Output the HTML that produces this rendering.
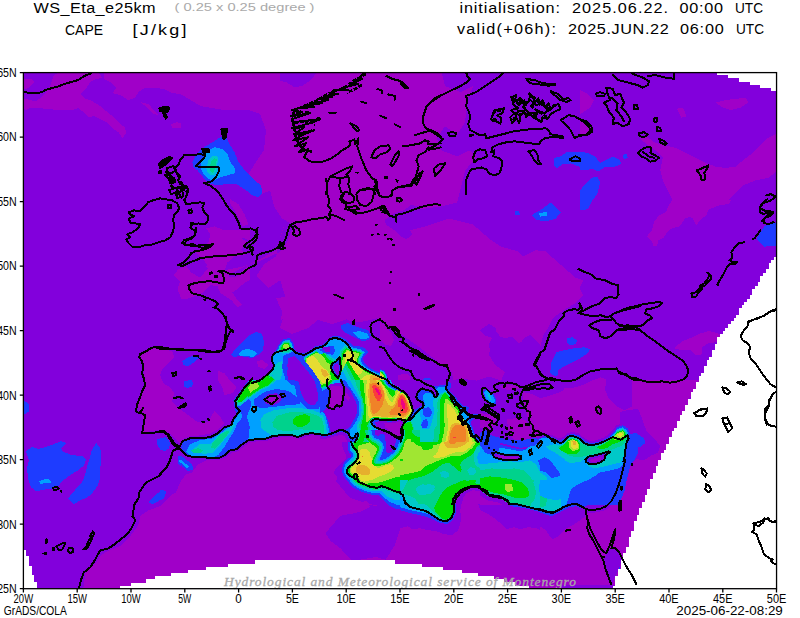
<!DOCTYPE html><html><head><meta charset="utf-8"><title>CAPE</title>
<style>html,body{margin:0;padding:0;background:#fff;overflow:hidden}svg{display:block}text{font-family:"Liberation Sans",sans-serif;fill:#000}</style></head><body>
<svg width="800" height="618" viewBox="0 0 800 618">
<rect width="800" height="618" fill="#fff"/>
<defs><clipPath id="cp"><rect x="23.4" y="72.6" width="753.15" height="516.1"/></clipPath></defs>
<g clip-path="url(#cp)" shape-rendering="crispEdges">
<rect x="23.4" y="72.6" width="753.15" height="516.1" fill="rgb(130,0,220)"/>
<polygon points="523.2,392.0 532.2,394.1 540.2,398.1 548.3,396.1 560.3,392.0 568.4,388.0 574.4,392.0 584.4,386.0 592.4,380.0 604.5,380.0 604.5,388.0 608.5,398.1 616.5,406.1 624.6,410.1 632.6,406.1 640.6,402.1 640.6,432.2 634.6,430.2 628.6,426.2 622.6,423.2 616.5,425.2 610.5,432.2 604.5,437.2 596.5,440.2 590.4,441.2 584.4,438.2 578.4,433.2 572.4,431.8 567.3,433.2 563.3,437.2 558.3,438.2 552.3,435.2 546.3,433.2 540.2,436.2 534.2,438.2 531.2,432.2 530.2,424.2 527.2,416.1 525.2,408.1 523.2,400.1" fill="rgb(160,0,200)"/>
<polygon points="480.0,413.1 488.0,414.1 496.1,417.1 495.1,426.2 488.0,429.2 480.0,428.2" fill="rgb(160,0,200)"/>
<polygon points="507.1,419.2 516.1,418.2 526.2,420.2 530.2,428.2 530.2,440.2 520.2,443.3 512.1,438.2 508.1,430.2" fill="rgb(160,0,200)"/>
<polygon points="500.1,386.0 506.1,384.0 518.2,386.0 519.2,389.0 510.1,390.0 502.1,389.0" fill="rgb(160,0,200)"/>
<polygon points="400.0,528.2 408.0,526.2 412.0,529.2 420.1,528.2 428.1,530.2 436.1,531.2 444.2,534.2 452.2,535.2 458.2,530.2 461.2,520.2 460.2,510.1 462.2,500.1 468.3,495.1 472.3,492.0 475.3,496.1 478.3,504.1 480.3,510.1 488.4,514.1 494.4,518.2 500.4,523.2 506.4,529.2 514.5,527.2 520.5,529.2 528.5,527.2 536.5,528.2 544.6,533.2 552.6,539.2 560.6,536.2 560.6,604.5 400.0,604.5" fill="rgb(160,0,200)"/>
<polygon points="540.0,526.3 546.0,530.3 552.0,539.3 558.1,536.3 566.1,528.3 574.1,524.3 580.2,520.2 585.2,516.2 587.8,512.6 594.2,512.6 602.2,511.2 608.3,508.2 612.7,503.2 616.3,496.1 619.3,488.1 622.3,478.1 624.3,469.0 626.3,460.0 700.6,460.0 700.6,584.5 540.0,584.5" fill="rgb(160,0,200)"/>
<polygon points="380.0,322.0 385.0,325.0 388.0,330.0 392.0,334.0 394.0,340.0 391.0,346.0 386.0,345.0 382.0,342.0 380.0,340.0" fill="rgb(160,0,200)"/>
<polygon points="398.0,375.0 406.0,373.6 410.0,376.0 410.0,380.4 398.0,380.4" fill="rgb(160,0,200)"/>
<polygon points="200.0,70.0 441.0,70.0 445.0,86.1 461.0,92.1 473.1,86.1 467.1,102.1 465.1,122.2 457.0,134.3 445.0,126.2 436.9,138.3 441.0,150.3 457.0,156.3 469.1,150.3 477.1,156.3 465.1,170.4 461.0,186.5 457.0,202.5 441.0,206.5 424.9,208.6 408.8,212.6 400.8,218.6 408.8,230.6 424.9,226.6 449.0,218.6 473.1,224.6 489.2,238.7 501.2,246.7 517.9,251.4 523.0,256.5 535.5,250.2 545.5,251.4 555.6,260.2 565.6,269.0 575.7,277.8 583.2,280.3 579.4,287.8 583.2,295.4 575.7,302.9 563.1,310.4 553.1,317.9 548.1,328.0 543.0,335.5 540.5,345.5 535.5,345.5 528.0,336.8 517.9,344.3 510.4,340.5 500.4,336.8 495.4,330.5 489.1,325.5 482.8,330.5 487.8,336.8 495.4,336.8 490.3,345.5 489.1,355.1 495,365 505,372 501,380.6 489,376.6 477,380.6 461,378.6 451,380.6 445.0,372.6 436.9,360.6 420.9,348.5 404.8,336.5 388.8,326.4 376.7,318.4 368.7,320.4 358.6,322.4 348.6,320.4 336.5,314.4 320.5,316.4 304.4,320.4 292.4,312.4 280.3,320.4 286.3,300.3 280.3,280.2 268.3,288.3 256.2,276.2 264.3,264.2 276.3,256.1 280.3,236.1 286.3,220.0 276,250.7 260,258.8 244,266.8 228,274.8 212,270.8 200,262.8 205,266 225,270 245,266 262,260 280,252 287,242 294,225 282,218.6 274,206.5 270,190.5 260,194.5 248,174.4 264,150 266,130 260,114 248,110 224,110 200,106 200,72" fill="rgb(160,0,200)"/>
<polygon points="82.8,592 85.3,573.4 95.4,563.4 100.4,555.8 108,550.8 120.5,545.8 130.5,535.8 138,525.7 140.5,515.7 148,510.7 160.6,505.7 170.6,495.6 176,492.4 180,482.4 186,474.4 192,472.4 198,464.3 206,460.3 218,460.3 226,457.3 232,452.3 238,451.3 244,446.3 250,442.2 258,441.2 266,441.2 274.5,438.2 282.5,437.2 294.5,437.2 299.6,439.2 306.6,436.2 312.6,435.2 320,436.2 326,438.7 332,437.2 337,435.7 341,434.7 344.6,436.2 346.3,439.2 341.6,442 342.6,448 346,455 346,459 340,464 335,470 333.6,473 337.6,477 336,482 340,486 345,492 350,498 354,502 360,502 367,501 369,504 385,507 401,528.2 401,592" fill="rgb(160,0,200)"/>
<polygon points="173.8,275.0 178.8,268.8 186.2,266.2 191.2,272.5 200.0,277.5 208.8,267.5 203.8,260.0 196.2,252.5 208.8,248.8 211.2,237.5 215.0,232.5 220.0,230.0 250.0,230.0 250.0,241.2 242.5,237.5 237.5,243.8 245.0,255.0 235.0,256.2 227.5,262.5 225.0,270.0 230.0,277.5 237.5,276.2 247.5,266.2 250.0,267.5 250.0,280.0 245.0,282.5 237.5,288.8 232.5,292.5 237.5,300.0 242.5,305.0 237.5,307.0 231.2,300.0 220.0,292.5 217.5,286.2 210.0,285.0 202.5,292.5 197.5,295.0 187.5,298.8 181.2,298.8 177.5,288.8 180.0,281.2" fill="rgb(160,0,200)"/>
<polygon points="276,298 284,316 280,328 292,334 308,328 318,320 332,324 344,320 360,316 376,312 392,310 392,298 340,292" fill="rgb(160,0,200)"/>
<polygon points="230.4,199.3 238.5,204.3 244.5,214.3 248.5,224.4 242.5,226.4 238.5,218.4 234.5,210.3 230.4,204.3" fill="rgb(160,0,200)"/>
<polygon points="206.3,228.4 214.4,226.4 224.4,230.4 230.4,234.4 240.5,238.4 248.5,242.4 240.5,250.5 232.4,254.5 206.3,254.5 200.3,248.5 208.4,242.4 210.4,234.4" fill="rgb(160,0,200)"/>
<polygon points="150.1,347.0 160.2,349.1 172.2,351.1 174.2,357.1 168.2,363.1 162.2,369.1 160.2,375.2 163.2,383.2 170.2,387.2 174.2,393.2 172.2,401.3 180.2,409.3 188.3,415.3 196.3,421.3 202.3,423.4 208.4,421.3 214.4,411.3 220.4,417.3 224.4,423.4 218.4,429.4 210.4,433.4 200.3,435.4 190.3,436.4 184.3,438.4 180.2,443.4 176.2,439.4 170.2,433.4 162.2,429.4 150.1,431.4 143.1,432.4 144.1,421.3 140.1,412.3 137.1,404.3 142.1,391.2 145.1,385.2 143.1,367.1 140.1,355.1 144.1,352.1" fill="rgb(160,0,200)"/>
<polygon points="218.4,371.1 224.4,373.2 230.4,381.2 236.5,387.2 232.4,393.2 224.4,395.2 222.4,387.2 218.4,381.2" fill="rgb(160,0,200)"/>
<polygon points="256.5,361.1 262.6,360.1 268.6,365.1 264.6,369.1 258.6,367.1" fill="rgb(160,0,200)"/>
<polygon points="560.3,394.5 564.3,388.5 574.4,387.5 584.4,384.5 592.4,380.4 600.5,377.4 606.5,379.4 605.5,386.5 600.5,394.5" fill="rgb(160,0,200)"/>
<polygon points="647.1,236.1 652.1,230.1 654.1,222.1 658.2,216.1 666.2,212.0 668.2,206.0 672.2,200.0 731.4,200.0 728.4,204.0 716.4,206.0 708.4,210.0 706.3,215.1 700.3,220.1 696.3,225.1 692.3,218.1 686.3,215.1 680.2,217.1 678.2,222.1 680.2,226.1 672.2,228.1 667.2,232.1 663.2,238.2 658.2,240.2 657.1,246.2 653.1,246.2 652.1,241.2" fill="rgb(160,0,200)"/>
<polygon points="674.2,348.2 682.2,341.2 690.3,338.2 698.3,334.1 708.4,331.1 714.4,332.1 722.4,335.1 716.4,342.2 708.4,343.2 702.3,347.2 701.3,355.2 695.3,355.2 690.3,350.2 682.2,350.2" fill="rgb(160,0,200)"/>
<polygon points="630.0,416.5 640.1,404.4 638.1,396.4 646.1,398.4 654.1,400.4 666.2,396.4 676.2,392.4 682.2,388.4 688.3,394.4 680.2,424.5 634.1,424.5" fill="rgb(160,0,200)"/>
<polygon points="632.0,379.9 704.3,379.9 688.3,400.0 688.3,464.3 632.0,464.3" fill="rgb(160,0,200)"/>
<polygon points="639.0,137.8 646.5,136.5 655.3,142.8 665.3,145.3 675.4,147.8 685.4,152.8 695.4,157.8 705.5,162.8 715.5,166.6 725.5,167.9 735.6,166.6 743.1,160.3 753.1,152.8 760.7,145.3 768.2,137.8 778.2,132.7 778.2,170.4 768.2,177.9 755.7,180.4 743.1,185.4 733.1,195.5 725.5,203.0 715.5,206.8 705.5,210.5 695.4,215.5 685.4,218.1 680.4,225.6 652.8,225.6 660.3,218.1 667.8,210.5 672.8,200.5 667.8,190.5 662.8,180.4 660.3,170.4 662.8,157.8 655.3,150.3 647.8,145.3" fill="rgb(160,0,200)"/>
<polygon points="580.0,90.1 587.5,93.8 593.8,100.1 590.0,107.6 582.5,112.7 580.0,113.9" fill="rgb(160,0,200)"/>
<polygon points="580.0,120.2 591.3,126.5 592.5,131.5 587.5,134.7 580.0,135.2" fill="rgb(160,0,200)"/>
<polygon points="715.5,102.6 725.5,100.1 735.6,98.9 745.6,97.6 748.1,102.6 740.6,107.6 730.6,110.2 723.0,107.6" fill="rgb(160,0,200)"/>
<polygon points="676.6,108.9 682.9,107.6 686.6,116.4 681.6,117.7" fill="rgb(160,0,200)"/>
<polygon points="22.0,79.0 32.0,79.0 34.1,82.1 30.0,87.1 22.0,90.5" fill="rgb(160,0,200)"/>
<polygon points="22.0,98.1 30.0,100.1 36.1,101.1 40.1,98.1 46.1,92.1 50.1,86.1 52.1,80.0 54.1,75.0 60.2,72.0 98.3,72.0 102.3,78.0 96.3,79.0 90.3,82.1 86.3,88.1 80.2,94.1 84.3,98.1 92.3,101.1 100.3,106.2 106.3,111.2 112.4,116.2 118.4,122.2 124.4,127.2 126.4,132.3 122.4,138.3 118.4,132.3 112.4,128.2 106.3,122.2 100.3,119.2 94.3,116.2 88.3,117.2 82.2,111.2 78.2,108.2 72.2,110.2 60.2,110.2 50.1,109.2 40.1,108.2 30.0,108.2 26.0,110.2 22.0,108.2" fill="rgb(160,0,200)"/>
<polygon points="104.3,71.0 200.7,71.0 200.7,106.2 180.6,94.1 172.6,93.1 164.6,89.1 156.5,88.1 144.5,88.1 138.5,92.1 134.5,98.1 128.4,100.1 120.4,95.1 112.4,93.1 116.4,88.1 110.4,82.1 104.3,79.0" fill="rgb(160,0,200)"/>
<polygon points="140.5,102.1 148.5,104.1 154.5,111.2 158.6,115.2 152.5,113.2 146.5,107.2" fill="rgb(160,0,200)"/>
<polygon points="170.6,124.2 176.6,122.2 180.6,123.2 180.6,128.2 172.6,128.2" fill="rgb(160,0,200)"/>
<polygon points="392.0,335.0 400.0,341.0 408.0,353.0 420.0,358.0 428.0,363.0 438.0,364.4 446.0,367.0 452.0,372.0 453.0,380.4 412.0,380.4 411.0,372.0 404.0,370.4 398.0,368.0 392.0,363.0 388.0,358.0 385.0,352.0 384.0,348.0 391.0,346.0 394.0,340.0" fill="rgb(130,0,220)"/>
<polygon points="480,330 489,324 496,328 497,335 504,338 512,337 520,344 524,338 530,335 536,340 540,345 540,380 508,380 510,375 520,370 518,364 512,362 504,364 496,360 490,352 489,344 492,338 484,335" fill="rgb(130,0,220)"/>
<polygon points="325.5,533 340.5,515.7 355.6,513 368,505 395,508 400,516 400,530 395,545 385.7,559.6 375.7,557 360.6,559.6 350.6,559.6 340.5,548.3 330.5,540.8" fill="rgb(130,0,220)"/>
<polygon points="280.0,73.0 316.1,73.0 312.1,79.0 302.1,86.1 294.1,87.1 286.0,82.0 280.0,81.0" fill="rgb(130,0,220)"/>
<polygon points="384.4,220.2 392.4,214.1 404.5,210.1 410.5,205.1 418.6,206.1 423.6,214.1 418.6,220.2 412.5,225.2 408.5,228.2 412.5,234.2 406.5,239.2 400.5,236.2 394.5,230.2 386.4,225.2" fill="rgb(130,0,220)"/>
<polygon points="620.0,412.0 628.0,410.0 638.1,409.0 641.1,416.1 646.1,430.1 654.1,438.2 660.2,446.2 658.2,452.2 650.1,456.2 644.1,460.2 636.1,459.2 630.0,466.3 626.0,480.3 620.0,484.3" fill="rgb(130,0,220)"/>
<polygon points="181.1,447.3 183.1,441.2 190.1,437.8 200.2,437.8 210.2,436.8 218.2,432.6 224.3,426.6 230.7,424.6 232.7,418.6 236.3,413.7 234.7,408.1 233.3,400.1 238.3,394.1 243.3,387.0 249.4,380.0 320.0,380.0 320.0,433.8 310.6,432.8 304.6,433.8 297.6,436.8 292.5,434.8 280.5,434.8 272.4,435.8 264.4,438.8 256.4,438.8 248.4,439.8 242.3,443.9 236.3,448.9 230.3,449.9 224.3,454.9 218.2,457.9 208.2,457.9 206.2,456.9 194.1,456.9 186.1,454.9 182.5,451.3" fill="rgb(30,60,255)"/>
<polygon points="160.0,438.2 166.0,437.2 170.0,442.2 169.0,448.3 165.0,451.3 160.0,449.3" fill="rgb(30,60,255)"/>
<polygon points="178.1,457.3 182.1,456.3 192.1,464.3 193.1,469.4 188.1,471.4 182.1,466.3 178.1,460.3" fill="rgb(30,60,255)"/>
<polygon points="160.0,489.4 166.0,491.4 164.0,498.5 160.0,500.5" fill="rgb(30,60,255)"/>
<polygon points="184.1,381.0 192.1,380.0 193.1,385.0 188.1,388.0 183.7,386.0" fill="rgb(30,60,255)"/>
<polygon points="320.0,380.0 400.3,380.0 400.3,442.2 320.0,442.2" fill="rgb(30,60,255)"/>
<polygon points="400.0,391.8 403.0,391.0 406.0,393.3 408.5,397.3 411.0,403.1 412.6,408.1 413.3,410.6 416.1,409.1 419.1,407.6 421.6,405.6 422.1,403.6 419.6,401.6 417.1,400.1 415.1,397.6 416.1,394.1 417.6,391.2 420.1,389.2 422.9,388.2 425.1,389.2 427.6,389.8 431.1,390.8 433.6,392.9 435.1,396.1 436.9,396.1 437.3,393.9 436.3,391.5 434.3,389.0 432.3,386.8 437.1,385.8 442.2,384.8 445.7,385.2 447.0,383.5 448.0,381.5 450.2,382.5 451.4,386.0 450.4,388.2 449.4,390.8 452.4,393.9 455.4,396.9 457.9,400.4 460.4,403.4 463.0,405.4 466.5,406.4 469.5,407.4 467.5,410.1 468.5,413.1 472.5,414.1 480.3,413.6 480.3,415.1 474.8,418.0 472.5,420.2 470.5,422.2 472.5,427.2 474.5,433.2 477.5,438.2 480.3,441.4 480.3,442.2 400.0,442.2" fill="rgb(30,60,255)"/>
<polygon points="347.9,448.9 348.0,449.5 348.1,450.0 348.3,450.6 348.5,451.1 348.8,451.6 349.1,452.1 349.4,452.6 350.8,454.2 351.1,455.0 351.1,455.6 350.6,456.5 347.8,459.1 347.7,459.2 344.7,462.2 344.3,462.6 344.0,463.1 343.7,463.6 343.4,464.1 343.2,464.6 342.2,467.6 342.0,468.3 341.9,468.9 341.9,469.5 341.9,470.2 342.0,470.8 342.5,473.3 342.7,474.0 343.0,474.7 343.3,475.3 344.8,477.8 345.2,478.4 345.7,479.0 347.2,480.5 348.9,483.1 349.3,483.6 349.7,484.1 352.2,486.6 352.8,487.1 353.4,487.5 357.0,489.7 357.4,489.9 357.9,490.2 361.9,491.8 362.2,491.9 366.2,493.3 366.8,493.4 371.8,494.6 372.5,494.8 373.2,494.8 378.2,494.8 378.9,494.8 379.6,494.7 380.2,494.5 381.9,493.9 383.3,494.3 388.0,496.2 388.2,496.2 393.2,498.0 393.8,498.2 394.4,498.3 399.4,499.0 399.8,499.1 400.3,499.1 400.3,442.0 347.5,442.0" fill="rgb(30,60,255)"/>
<polygon points="480.0,433.2 486.0,430.2 490.0,434.2 492.0,440.2 498.1,444.3 506.1,446.3 514.1,448.3 524.2,449.3 530.2,446.3 534.2,440.2 540.2,438.2 546.3,435.2 552.3,437.2 558.3,440.2 564.3,439.2 567.3,435.2 572.4,433.8 578.4,435.2 584.4,440.2 590.4,443.3 596.5,442.2 602.5,440.2 608.5,437.2 612.5,433.2 617.6,427.2 622.6,425.2 627.6,428.2 630.6,434.2 632.6,440.2 636.6,444.3 638.6,452.3 634.6,460.3 630.6,464.3 628.6,472.4 626.6,480.4 624.6,490.4 620.6,500.5 618.6,504.5 480.0,504.5" fill="rgb(30,60,255)"/>
<polygon points="483.0,391.0 487.0,388.4 493.1,393.7 496.5,400.1 495.7,405.7 491.0,404.5 485.6,399.1" fill="rgb(30,60,255)"/>
<polygon points="400.0,510.1 410.0,513.1 420.1,515.1 430.1,518.2 440.2,523.2 447.2,523.8 452.6,520.2 455.8,513.1 456.2,505.1 458.2,499.1 462.2,494.5 468.3,490.4 477.3,489.0 486.3,493.1 489.4,497.1 502.4,500.1 508.4,503.1 510.4,506.1 524.5,508.1 540.6,512.1 548.6,514.5 554.6,514.1 560.6,511.1 560.6,480.0 400.0,480.0" fill="rgb(30,60,255)"/>
<polygon points="540.0,512.6 546.0,514.6 552.0,516.2 558.1,513.2 563.1,510.2 570.1,507.2 576.1,506.2 581.2,508.2 585.2,506.2 592.2,503.2 600.2,500.2 606.3,498.2 610.3,494.1 613.3,488.1 616.3,480.1 619.3,472.0 622.3,464.0 623.9,460.0 540.0,460.0" fill="rgb(30,60,255)"/>
<polygon points="231.0,355.0 236.0,348.0 242.0,342.0 250.0,335.0 256.0,332.0 262.0,334.0 264.0,342.0 263.0,350.0 258.0,355.0 252.0,358.0 246.0,357.0 240.0,356.0 234.0,357.0" fill="rgb(30,60,255)"/>
<polygon points="341.0,325.0 348.0,323.0 354.0,326.0 360.0,328.0 368.0,330.0 371.0,335.0 369.0,340.0 362.0,341.0 356.0,338.0 350.0,335.0 344.0,332.0 341.0,328.0" fill="rgb(30,60,255)"/>
<polygon points="271.6,357.0 275.0,352.4 278.0,346.0 283.0,339.0 290.0,338.0 293.6,344.0 295.0,351.0 304.0,353.6 310.0,350.4 316.0,346.0 322.0,345.0 326.0,341.6 330.0,337.0 335.0,335.6 340.4,336.6 346.0,339.6 350.0,343.0 353.0,346.0 358.0,346.0 364.0,348.0 368.0,352.0 364.0,356.0 363.0,359.0 364.0,363.0 368.0,367.0 373.0,369.6 380.0,372.4 380.0,380.4 260.0,380.4 268.0,374.0 272.4,369.0 273.6,365.0 271.6,361.0" fill="rgb(30,60,255)"/>
<polygon points="387.0,375.0 384.0,370.4 380.0,369.2 380.0,380.2 387.8,380.2" fill="rgb(30,60,255)"/>
<polygon points="424.0,378.0 430.0,377.6 431.0,380.4 423.0,380.4" fill="rgb(30,60,255)"/>
<polygon points="192.3,162.1 196.3,154.1 204.3,147.1 214.4,141.0 220.4,137.0 226.4,138.0 229.4,144.1 234.5,152.1 238.5,162.1 244.5,170.2 252.5,178.2 260.6,185.2 262.6,192.2 258.6,197.3 252.5,195.3 244.5,189.2 236.5,184.2 226.4,184.2 216.4,185.2 208.4,183.2 202.3,176.2 197.3,170.2 193.3,167.1" fill="rgb(30,60,255)"/>
<polygon points="553.5,158.4 560.5,156.3 566.5,152.3 584.6,152.3 590.6,155.3 590.6,166.4 584.6,170.4 578.6,166.4 570.6,163.4 562.5,164.4 556.5,168.4 553.5,164.4" fill="rgb(30,60,255)"/>
<polygon points="580.6,194.5 582.6,188.5 590.6,182.4 590.6,194.5" fill="rgb(30,60,255)"/>
<polygon points="182.2,361.1 188.3,357.1 196.3,355.1 200.3,357.1 194.3,362.1 188.3,366.1 183.3,365.1" fill="rgb(30,60,255)"/>
<polygon points="184.3,383.2 189.3,380.2 193.3,382.2 192.3,386.2 187.3,388.2 183.9,386.2" fill="rgb(30,60,255)"/>
<polygon points="157.1,439.4 163.2,437.4 168.2,439.4 169.2,445.4 166.2,450.5 160.2,449.5 157.1,444.4" fill="rgb(30,60,255)"/>
<polygon points="26.0,451.0 32.0,447.0 38.1,449.0 46.1,447.0 54.1,444.0 61.2,441.0 66.2,443.0 61.2,448.0 63.2,452.0 72.2,455.1 82.2,456.1 86.3,459.1 84.3,465.1 78.2,470.1 70.2,475.1 63.2,480.2 58.2,486.2 54.1,488.2 46.1,489.2 36.1,491.2 31.0,487.2 28.0,478.2 27.0,468.1 29.0,460.1" fill="rgb(30,60,255)"/>
<polygon points="89.3,460.1 91.3,451.0 96.3,443.0 100.3,448.0 101.3,458.1 100.3,468.1 100.3,478.2 97.3,486.2 92.3,493.2 86.3,498.2 80.2,500.2 74.2,504.3 68.2,498.2 73.2,492.2 78.2,486.2 82.2,482.2 85.3,474.1 87.3,466.1" fill="rgb(30,60,255)"/>
<polygon points="148.5,502.2 152.5,498.2 157.6,493.2 162.6,489.8 166.6,492.2 163.6,497.2 158.6,501.2 152.5,504.3" fill="rgb(30,60,255)"/>
<polygon points="157.6,440.0 168.6,440.0 169.6,446.0 164.6,450.0 160.6,447.0" fill="rgb(30,60,255)"/>
<polygon points="177.6,456.1 180.6,456.1 180.6,466.1 178.0,464.1" fill="rgb(30,60,255)"/>
<polygon points="550.3,372.4 551.3,362.4 556.3,352.3 564.3,350.3 574.4,348.3 584.4,347.3 590.4,349.3 586.4,354.3 578.4,359.4 570.4,363.4 562.3,367.4 558.3,370.4 557.3,376.4 553.3,375.4" fill="rgb(30,60,255)"/>
<polygon points="567.3,338.3 572.4,337.3 577.4,340.3 575.4,344.3 569.4,345.3 567.3,342.3" fill="rgb(30,60,255)"/>
<polygon points="756.5,239.2 760.6,232.1 764.6,226.1 769.6,223.1 778.6,222.5 778.6,245.8 770.6,246.2 764.6,246.6 760.6,243.2" fill="rgb(30,60,255)"/>
<polygon points="628.0,434.1 636.1,433.1 644.1,438.2 645.1,443.2 640.1,447.2 632.0,448.2 629.0,444.2" fill="rgb(30,60,255)"/>
<polygon points="580.0,154.1 587.5,152.8 595.1,156.6 600.1,162.8 607.6,159.1 612.6,156.6 618.9,159.1 621.4,164.1 615.1,166.6 605.1,166.6 598.8,171.6 592.5,169.1 580.0,170.4" fill="rgb(30,60,255)"/>
<polygon points="622.7,154.8 626.4,154.1 627.7,157.8 623.9,159.1" fill="rgb(30,60,255)"/>
<polygon points="580.0,190.5 585.0,184.2 591.3,177.9 597.6,176.6 600.1,182.9 597.6,193.0 592.5,200.5 587.5,209.3 580.0,210.5" fill="rgb(30,60,255)"/>
<polygon points="531.7,215.1 540.5,210.0 550.6,202.5 560.6,212.5 555.6,218.8 545.5,221.3 536.8,220.1" fill="rgb(30,60,255)"/>
<polygon points="514.9,211.3 519.2,211.3 519.9,214.6 515.4,215.1" fill="rgb(30,60,255)"/>
<polygon points="23,400 29,404 29,411.5 23,415" fill="rgb(30,60,255)"/>
<polygon points="374.2,484.6 388.3,489.8 400.9,492.6 400.9,509.3 396.3,509.3 388.3,505.3 378.2,495.2" fill="rgb(30,60,255)"/>
<polygon points="180.1,459.3 189.1,466.3 187.1,468.4 179.1,461.3" fill="rgb(0,160,255)"/>
<polygon points="186.1,451.3 190.1,444.3 200.2,440.2 212.2,438.6 220.2,433.4 227.3,427.8 231.5,425.4 235.3,419.2 237.9,415.1 240.3,412.1 242.7,415.1 240.3,420.2 237.3,423.2 234.7,430.2 229.7,438.2 224.7,446.3 218.6,454.7 212.6,457.9 206.6,456.7 194.5,456.7 188.1,454.3" fill="rgb(0,160,255)"/>
<polygon points="248.4,439.2 249.8,426.6 246.7,416.5 250.4,408.1 251.4,402.1 248.4,399.1 240.3,406.1 236.3,406.1 234.7,402.1 239.3,394.1 244.3,387.0 249.4,380.0 320.0,380.0 320.0,433.8 310.6,432.8 304.6,433.8 297.6,436.8 292.5,434.8 280.5,434.8 272.4,435.8 264.4,438.8 256.4,438.8" fill="rgb(0,160,255)"/>
<polygon points="320.0,380.0 327.0,380.0 326.0,384.0 327.0,387.5 324.0,389.5 320.0,390.0" fill="rgb(0,160,255)"/>
<polygon points="327.5,380.0 341.1,380.0 340.1,382.5 331.0,383.5 328.5,382.0" fill="rgb(0,160,255)"/>
<polygon points="320.0,413.1 322.5,412.1 325.0,414.6 326.5,420.2 328.0,425.2 329.0,430.2 329.5,433.7 326.0,434.7 320.0,434.2" fill="rgb(0,160,255)"/>
<polygon points="345.1,380.0 400.3,380.0 400.3,389.5 398.3,388.2 395.3,386.8 392.3,385.2 389.3,382.8 387.3,380.5 384.3,380.5 385.3,384.0 390.3,387.5 396.3,390.0 400.3,391.5 400.3,419.2 396.3,419.4 390.3,419.9 384.3,419.9 380.2,419.4 376.2,418.9 373.0,419.4 371.7,422.0 372.7,425.2 375.2,427.4 380.2,429.4 385.3,431.4 390.3,433.9 395.3,437.4 400.3,439.4 400.3,442.2 354.6,442.2 356.9,439.2 358.2,436.2 358.0,433.2 356.1,433.7 354.6,437.0 352.1,438.5 350.1,436.7 349.6,433.7 349.6,430.2 353.6,425.2 356.9,420.2 358.7,415.1 359.4,410.1 358.4,400.1 355.1,395.1 351.6,390.0 348.1,385.0" fill="rgb(0,160,255)"/>
<polygon points="424.1,394.1 426.1,392.6 430.1,393.1 433.1,396.1 435.1,398.3 437.7,397.8 438.7,395.1 438.2,392.0 436.1,389.5 438.2,387.5 442.2,386.5 445.7,387.0 447.7,390.0 450.2,393.6 453.2,396.6 455.7,400.1 458.2,403.6 460.7,406.3 464.3,407.3 466.3,408.6 465.3,410.6 465.8,413.1 469.3,414.6 468.3,418.2 469.3,422.2 471.3,428.2 473.3,434.2 476.8,439.2 479.3,442.2 400.0,442.2 400.0,427.2 401.8,425.2 403.5,422.7 406.0,421.0 408.5,420.4 411.0,418.7 413.6,416.6 416.1,414.1 418.6,411.3 421.6,409.1 423.9,406.9 424.9,404.1 423.6,400.6 422.6,397.1" fill="rgb(0,160,255)"/>
<polygon points="400.0,392.1 403.0,391.3 405.9,393.6 408.4,397.5 410.8,403.2 412.3,408.2 413.1,410.6 411.8,413.6 409.8,417.1 407.8,419.8 405.0,421.5 402.5,424.0 400.0,425.8" fill="rgb(0,160,255)"/>
<polygon points="349.9,448.8 350.0,449.1 350.0,449.5 350.1,449.9 350.3,450.3 350.5,450.6 350.7,451.0 350.9,451.3 352.6,453.1 353.1,454.7 353.1,456.1 352.2,457.7 349.2,460.5 349.1,460.6 346.1,463.6 345.9,463.9 345.6,464.2 345.4,464.6 345.3,464.9 345.1,465.3 344.1,468.3 344.0,468.7 343.9,469.1 343.9,469.6 343.9,470.0 344.0,470.4 344.5,472.9 344.6,473.4 344.8,473.8 345.0,474.3 346.5,476.8 346.8,477.2 347.1,477.6 348.8,479.3 350.6,482.0 350.8,482.3 351.1,482.7 353.6,485.2 354.0,485.5 354.4,485.8 358.0,488.0 358.3,488.2 358.6,488.3 362.6,489.9 362.8,490.0 366.8,491.4 367.2,491.5 372.2,492.7 372.7,492.8 373.2,492.8 378.2,492.8 378.7,492.8 379.1,492.7 379.6,492.6 381.8,491.8 384.0,492.4 388.7,494.3 388.9,494.4 393.9,496.2 394.3,496.3 394.7,496.4 399.7,497.1 400.0,497.1 400.3,497.1 400.3,442.0 349.5,442.0" fill="rgb(0,160,255)"/>
<polygon points="480.0,440.2 488.0,438.2 492.0,444.3 498.1,447.3 510.1,449.3 520.2,451.3 526.2,449.3 532.2,444.3 536.2,440.2 542.2,438.2 548.3,438.2 554.3,441.2 559.3,443.9 564.3,442.2 567.8,437.8 572.4,436.2 577.4,437.8 583.4,442.7 589.4,445.3 596.5,444.3 602.5,442.2 608.5,439.2 612.5,435.2 617.6,429.2 622.6,427.2 626.6,430.2 629.0,436.2 627.6,442.2 626.2,448.3 625.0,456.3 623.0,464.3 618.6,468.4 610.5,470.4 600.5,472.4 592.4,474.4 584.4,478.4 576.4,484.4 570.4,490.4 568.4,498.5 566.3,504.5 480.0,504.5" fill="rgb(0,160,255)"/>
<polygon points="484.0,392.0 487.0,390.0 492.0,394.1 495.1,400.1 494.1,404.1 491.0,403.1 486.0,398.1" fill="rgb(0,160,255)"/>
<polygon points="400.0,507.1 410.0,510.1 420.1,512.1 430.1,514.5 440.2,521.2 446.6,521.8 451.8,518.6 454.2,512.1 454.6,504.1 456.6,498.1 460.6,493.3 466.7,489.2 471.5,487.4 477.3,487.4 482.3,489.4 487.6,491.4 488.6,495.5 494.4,497.5 502.4,498.5 507.6,500.5 509.6,504.5 516.5,504.5 524.5,506.5 532.5,508.5 540.6,510.5 548.6,512.9 554.6,512.5 560.6,509.5 560.6,480.0 400.0,480.0" fill="rgb(0,160,255)"/>
<polygon points="540.0,508.2 546.0,510.2 551.0,512.6 557.1,509.8 562.1,506.6 567.1,503.2 568.1,496.1 572.1,488.1 580.2,483.1 588.2,480.1 596.2,475.1 602.2,470.0 608.3,467.0 616.3,464.0 624.3,460.0 540.0,460.0" fill="rgb(0,160,255)"/>
<polygon points="238.0,354.0 242.0,350.0 248.0,349.0 254.0,351.0 257.0,354.0 253.0,357.0 246.0,356.0 240.0,355.6" fill="rgb(0,160,255)"/>
<polygon points="353.0,332.0 360.0,331.0 368.0,334.0 369.0,338.0 363.0,339.6 357.0,337.0" fill="rgb(0,160,255)"/>
<polygon points="272.4,368.0 273.6,364.4 272.0,360.4 272.4,357.2 275.6,353.0 279.0,348.0 283.0,341.0 289.0,339.6 292.0,344.0 293.6,350.0 292.0,355.0 288.0,359.0 285.0,363.0 284.0,370.0 285.0,380.4 270.0,380.4" fill="rgb(0,160,255)"/>
<polygon points="304.0,357.0 310.0,353.6 316.0,349.6 322.0,348.0 326.0,345.0 330.0,340.0 335.0,338.0 340.0,339.0 345.0,342.0 349.0,345.6 354.0,348.0 360.0,349.0 365.0,352.0 362.4,356.0 361.0,359.0 362.0,364.0 367.0,368.0 372.4,371.0 380.0,374.0 380.0,380.4 303.0,380.4 302.4,374.0 302.4,366.0" fill="rgb(0,160,255)"/>
<polygon points="386.4,375.2 383.6,370.9 380.0,369.8 380.0,380.2 387.2,380.2" fill="rgb(0,160,255)"/>
<polygon points="314.0,376.0 313.7,376.0 313.3,376.1 313.0,376.2 312.6,376.3 312.3,376.4 312.0,376.6 311.8,376.8 311.5,377.1 311.3,377.3 311.1,377.6 310.9,377.9 310.7,378.2 310.6,378.5 310.6,378.9 310.5,379.2 310.5,379.6 310.5,379.9 310.6,380.3 310.7,380.6 310.8,380.9 312.8,385.4 313.0,385.7 313.1,386.0 313.4,386.3 313.6,386.5 313.9,386.8 314.1,387.0 314.4,387.1 320.4,390.1 320.8,390.3 321.1,390.4 321.5,390.5 321.8,390.5 322.2,390.5 322.5,390.5 322.9,390.4 323.2,390.3 331.2,387.3 331.6,387.1 331.9,387.0 332.2,386.7 332.4,386.5 332.7,386.2 332.9,385.9 335.9,381.4 336.1,381.1 336.2,380.8 336.4,380.5 336.4,380.2 336.5,379.8 336.5,379.5 336.5,379.2 336.4,378.8 336.3,378.5 336.2,378.2 336.1,377.8 335.9,377.6 335.7,377.3 335.5,377.0 335.2,376.8 334.9,376.6 334.6,376.4 334.3,376.3 334.0,376.2 333.7,376.1 333.3,376.0 333.0,376.0" fill="rgb(0,160,255)"/>
<polygon points="200.3,167.1 202.3,158.1 208.4,150.1 214.4,147.1 222.4,149.1 227.4,154.1 230.4,162.1 235.5,169.2 234.5,173.2 228.4,175.2 220.4,177.2 214.4,180.2 208.4,179.2 203.3,174.2" fill="rgb(0,160,255)"/>
<polygon points="39.1,481.2 46.1,478.6 50.1,479.8 51.1,482.6 40.1,483.8" fill="rgb(0,160,255)"/>
<polygon points="539.3,213.0 546.8,212.0 546.8,216.1 539.8,216.6" fill="rgb(0,160,255)"/>
<polygon points="374.2,484.6 388.3,489.8 400.9,492.6 400.9,505.3 396.3,504.7 388.3,501.2 379.2,492.6" fill="rgb(0,160,255)"/>
<polygon points="193.1,449.3 200.2,443.9 210.2,443.9 218.2,435.8 226.3,429.8 229.9,428.2 232.3,423.2 234.7,425.2 230.7,432.6 224.7,439.2 218.6,447.3 212.6,452.7 204.6,453.9 196.5,452.7" fill="rgb(0,200,200)"/>
<polygon points="235.9,405.7 234.7,401.1 239.3,394.5 244.3,387.6 250.0,380.6 256.4,380.0 272.4,380.0 268.4,385.0 260.4,389.0 254.4,394.1 248.4,398.1 242.3,404.1" fill="rgb(0,200,200)"/>
<polygon points="260.4,420.2 264.4,414.1 274.5,410.1 288.5,408.1 300.6,408.1 312.6,410.1 320.0,413.1 320.0,433.8 310.6,432.8 304.6,433.8 297.6,436.8 292.5,434.8 280.5,434.8 272.4,435.8 266.4,432.2 261.4,428.2" fill="rgb(0,200,200)"/>
<polygon points="320.0,380.0 326.0,380.0 325.0,384.0 323.0,387.0 320.0,388.0" fill="rgb(0,200,200)"/>
<polygon points="320.0,415.1 322.0,414.6 324.0,418.2 325.5,424.2 326.5,430.2 327.0,434.2 323.0,434.7 320.0,434.0" fill="rgb(0,200,200)"/>
<polygon points="350.1,380.0 384.3,380.0 386.3,384.0 391.3,388.0 397.3,390.5 400.3,391.8 400.3,419.0 390.3,419.6 382.2,419.4 376.2,418.6 372.7,419.0 371.0,422.0 370.7,425.2 372.2,428.2 374.2,432.2 372.2,436.2 370.2,442.2 355.1,442.2 357.3,439.2 358.6,436.2 358.2,433.0 357.3,430.2 356.9,425.2 359.7,420.2 361.0,415.1 361.6,410.1 360.7,400.1 358.0,395.1 355.3,390.0 352.6,385.0" fill="rgb(0,200,200)"/>
<polygon points="439.2,395.1 433.1,400.1 433.1,405.1 434.1,410.1 433.6,415.1 432.1,420.2 431.1,425.2 429.1,428.2 427.1,429.4 422.6,429.2 421.1,425.2 421.6,420.2 420.1,415.1 419.6,412.3 418.6,412.5 415.1,415.1 413.6,419.0 410.5,421.4 408.0,421.9 404.5,423.4 403.0,425.9 401.5,429.2 401.2,433.2 402.0,442.2 478.3,442.2 474.8,437.2 472.5,434.2 471.0,429.2 469.0,425.2 466.0,422.2 463.0,423.0 460.2,420.4 459.2,417.1 460.2,414.1 460.2,410.1 457.7,407.1 456.2,405.1 453.7,401.6 451.2,398.1 449.2,395.1 447.2,392.6 445.7,391.0 442.7,392.6 440.2,394.1" fill="rgb(0,200,200)"/>
<polygon points="400.0,392.4 402.9,391.6 405.7,393.8 408.2,397.7 410.6,403.2 412.1,408.2 412.9,410.6 411.5,413.6 409.5,417.0 407.5,419.6 404.8,421.3 402.3,423.7 400.0,425.2" fill="rgb(0,200,200)"/>
<polygon points="351.5,448.7 351.5,448.9 351.6,449.1 351.7,449.4 351.7,449.6 351.9,449.8 352.0,450.0 352.1,450.2 354.0,452.3 354.7,454.4 354.7,456.5 353.5,458.7 350.3,461.7 350.3,461.8 347.3,464.8 347.1,464.9 347.0,465.1 346.8,465.3 346.7,465.6 346.6,465.8 345.6,468.8 345.6,469.0 345.5,469.3 345.5,469.6 345.5,469.8 345.6,470.1 346.1,472.6 346.1,472.9 346.2,473.2 346.4,473.4 347.9,475.9 348.1,476.2 348.3,476.4 350.1,478.2 351.9,481.1 352.1,481.3 352.3,481.5 354.8,484.0 355.0,484.2 355.2,484.4 358.8,486.6 359.0,486.7 359.2,486.8 363.2,488.4 363.3,488.5 367.3,489.9 367.6,489.9 372.6,491.1 372.9,491.2 373.2,491.2 378.2,491.2 378.5,491.2 378.8,491.1 379.0,491.1 381.8,490.1 384.5,490.9 389.3,492.8 389.4,492.8 394.4,494.6 394.7,494.7 394.9,494.8 399.9,495.5 400.1,495.5 400.3,495.5 400.3,442.0 351.1,442.0" fill="rgb(0,200,200)"/>
<polygon points="480.0,464.3 490.0,463.3 500.1,462.3 510.1,461.3 520.2,462.3 530.2,460.3 536.2,464.3 540.2,472.4 546.3,476.4 548.3,484.4 550.3,492.4 548.3,500.5 546.3,504.5 480.0,504.5" fill="rgb(0,200,200)"/>
<polygon points="546.3,446.3 554.3,444.3 560.3,445.3 564.3,443.3 567.8,438.6 572.4,437.0 577.4,438.6 583.4,443.5 589.4,445.9 596.5,445.1 602.5,443.1 608.5,440.0 612.5,436.2 617.6,430.2 622.6,428.2 626.2,431.2 628.2,436.6 626.6,442.2 625.0,448.3 623.6,456.3 620.6,462.3 612.5,464.3 604.5,466.3 594.5,468.4 588.4,466.3 584.4,460.3 578.4,460.3 572.4,462.3 566.3,460.3 560.3,456.3 554.3,452.3 548.3,449.3" fill="rgb(0,200,200)"/>
<polygon points="487.0,393.1 490.0,394.1 492.0,400.1 490.0,400.1" fill="rgb(0,200,200)"/>
<polygon points="400.0,500.1 404.0,504.1 410.0,507.1 418.1,509.1 426.1,511.1 434.1,516.1 440.2,520.2 446.2,521.2 451.2,518.2 453.8,512.1 454.2,504.1 456.2,498.1 460.2,493.1 466.3,489.0 471.3,487.0 477.3,487.0 482.3,489.0 487.3,491.0 488.4,495.1 494.4,497.1 502.4,498.1 507.4,500.1 509.4,504.1 516.5,504.1 524.5,506.1 532.5,508.1 540.6,510.1 548.6,512.5 554.6,512.1 560.6,509.1 560.6,480.0 400.0,480.0" fill="rgb(0,200,200)"/>
<polygon points="540.0,483.1 544.0,482.1 548.0,486.1 551.0,494.1 550.0,504.2 548.0,509.8 546.0,510.6 540.0,508.6" fill="rgb(0,200,200)"/>
<polygon points="564.1,460.0 570.1,463.0 580.2,462.0 583.2,460.0" fill="rgb(0,200,200)"/>
<polygon points="278.0,351.0 280.0,345.0 284.0,341.0 289.0,340.4 291.6,344.4 292.4,350.0 289.0,353.0 283.0,353.6" fill="rgb(0,200,200)"/>
<polygon points="274.0,368.0 277.0,363.0 282.0,361.0 283.0,367.0 282.0,374.0 280.0,380.4 272.4,380.4" fill="rgb(0,200,200)"/>
<polygon points="304.6,357.2 310.0,354.0 316.0,350.4 322.0,349.2 326.0,350.0 330.0,355.0 335.0,358.0 339.0,356.0 340.4,350.0 345.0,345.0 350.0,348.0 354.4,349.0 360.0,350.0 363.6,352.4 361.2,356.0 359.6,359.0 360.8,364.4 366.4,368.8 372.4,372.0 380.0,375.2 380.0,380.4 304.0,380.4 303.2,374.0 303.2,366.0" fill="rgb(0,200,200)"/>
<polygon points="260.0,380.4 268.0,374.0 272.4,369.6 274.4,371.6 271.0,378.0 270.0,380.4" fill="rgb(0,200,200)"/>
<polygon points="385.9,375.4 383.2,371.4 380.0,370.4 380.0,380.2 386.6,380.2" fill="rgb(0,200,200)"/>
<polygon points="314.0,377.5 313.8,377.5 313.6,377.5 313.4,377.6 313.2,377.7 313.0,377.7 312.9,377.8 312.7,378.0 312.6,378.1 312.4,378.2 312.3,378.4 312.2,378.6 312.1,378.8 312.1,379.0 312.0,379.1 312.0,379.3 312.0,379.5 312.0,379.7 312.0,379.9 312.1,380.1 312.2,380.3 314.2,384.8 314.3,385.0 314.4,385.2 314.5,385.3 314.6,385.5 314.8,385.6 314.9,385.7 315.1,385.8 321.1,388.8 321.3,388.9 321.5,388.9 321.7,389.0 321.9,389.0 322.1,389.0 322.3,389.0 322.5,388.9 322.7,388.9 330.7,385.9 330.9,385.8 331.1,385.7 331.2,385.6 331.4,385.4 331.5,385.3 331.7,385.1 334.7,380.6 334.8,380.4 334.8,380.3 334.9,380.1 335.0,379.9 335.0,379.7 335.0,379.5 335.0,379.3 335.0,379.1 334.9,378.9 334.8,378.7 334.8,378.6 334.7,378.4 334.5,378.2 334.4,378.1 334.3,378.0 334.1,377.8 333.9,377.7 333.8,377.7 333.6,377.6 333.4,377.5 333.2,377.5 333.0,377.5" fill="rgb(0,200,200)"/>
<polygon points="244.2,391.1 244.1,391.2 244.0,391.3 243.9,391.4 243.8,391.6 243.8,391.7 243.7,391.9 243.7,392.0 243.7,392.2 243.7,392.3 243.7,392.5 243.8,392.6 243.8,392.8 243.9,392.9 243.9,393.0 247.0,398.1 247.1,398.3 247.2,398.4 247.3,398.5 247.5,398.6 247.6,398.7 247.7,398.8 247.9,398.8 248.0,398.9 248.2,398.9 248.3,398.9 248.5,398.9 248.7,398.9 248.8,398.8 249.0,398.8 249.1,398.7 249.2,398.7 249.4,398.6 255.3,394.0 261.2,390.0 269.0,386.7 269.2,386.6 269.3,386.5 269.4,386.5 269.5,386.4 275.2,381.0 275.3,380.9 275.4,380.7 275.5,380.6 275.6,380.5 275.6,380.3 275.7,380.2 275.7,380.0 275.7,379.9 275.7,379.7 275.7,379.6 275.7,379.4 275.6,379.3 275.5,379.1 275.5,379.0 275.4,378.8 275.3,378.7 272.6,375.7 272.5,375.6 272.4,375.5 272.2,375.4 272.1,375.4 272.0,375.3 271.8,375.3 271.7,375.2 271.5,375.2 271.4,375.2 271.2,375.2 271.1,375.2 270.9,375.3 270.8,375.3 263.8,378.3 255.9,381.1 255.7,381.2 255.6,381.2 255.4,381.3 249.4,385.9 249.3,386.1" fill="rgb(0,200,200)"/>
<polygon points="206.3,168.2 208.4,160.1 212.4,156.1 217.4,156.1 218.4,160.1 216.4,167.1 217.4,170.2 214.4,175.2 210.4,175.2 207.3,172.2" fill="rgb(0,200,200)"/>
<polygon points="374.2,484.6 388.3,489.8 400.9,492.6 400.9,500.2 396.3,500.2 388.3,497.2 380.2,490.2" fill="rgb(0,200,200)"/>
<polygon points="211.8,443.9 220.2,434.6 227.3,430.6 229.3,431.8 225.3,437.2 220.2,443.3 214.6,448.7 211.2,447.9" fill="rgb(0,210,140)"/>
<polygon points="191.1,449.9 198.2,448.3 203.2,450.3 200.2,453.5 193.1,453.1" fill="rgb(0,210,140)"/>
<polygon points="237.3,404.1 235.9,401.1 239.9,395.1 244.7,388.0 250.0,381.0 260.4,380.0 268.4,380.0 264.4,385.0 256.4,389.0 250.4,394.1 245.3,399.1" fill="rgb(0,210,140)"/>
<polygon points="272.4,422.2 276.5,416.1 288.5,412.5 300.6,412.1 312.6,413.7 320.0,417.1 320.0,430.2 308.6,430.2 300.6,429.2 288.5,431.2 278.5,430.2 273.5,427.2" fill="rgb(0,210,140)"/>
<polygon points="320.0,418.2 321.5,417.7 323.0,422.2 324.0,428.2 324.5,434.0 320.0,433.7" fill="rgb(0,210,140)"/>
<polygon points="355.1,380.0 383.3,380.0 385.8,384.5 390.8,388.5 397.3,391.0 400.3,392.2 400.3,418.6 390.3,419.2 382.2,419.0 376.2,418.2 372.2,418.6 370.2,421.7 369.2,425.2 370.2,430.2 368.2,436.2 367.2,442.2 356.1,442.2 358.7,437.2 359.7,430.2 359.2,425.2 361.2,420.2 362.3,415.1 362.9,410.1 362.2,400.1 359.7,395.1 358.2,390.0 356.3,385.0" fill="rgb(0,210,140)"/>
<polygon points="440.7,395.1 437.7,400.1 437.1,405.1 437.7,410.1 437.1,415.1 437.1,420.2 437.1,425.2 433.6,430.2 434.1,435.2 433.1,442.2 478.3,442.2 474.8,437.4 472.5,434.4 471.0,429.4 469.0,425.4 466.0,422.6 464.3,421.4 460.2,417.3 460.0,410.1 456.7,406.3 452.7,401.6 450.2,398.1 448.0,395.1 446.4,392.6 445.2,391.8 442.7,393.6" fill="rgb(0,210,140)"/>
<polygon points="411.0,420.7 413.1,425.2 414.1,430.2 415.1,435.2 416.1,442.2 402.0,442.2 401.2,433.2 401.5,429.2 403.0,425.9 404.5,423.4 408.0,421.9" fill="rgb(0,210,140)"/>
<polygon points="400.0,392.7 402.9,391.8 405.6,394.0 408.1,397.8 410.5,403.3 412.0,408.3 412.7,410.6 411.3,413.6 409.3,416.9 407.2,419.5 404.6,421.1 402.1,423.4 400.0,424.7" fill="rgb(0,210,140)"/>
<polygon points="352.9,448.6 352.9,448.7 352.9,448.8 353.0,448.9 353.0,449.0 353.1,449.1 353.1,449.2 353.2,449.3 355.2,451.6 356.1,454.2 356.1,456.8 354.6,459.6 351.3,462.7 351.3,462.8 348.3,465.8 348.2,465.8 348.1,465.9 348.1,466.0 348.0,466.1 348.0,466.2 347.0,469.2 346.9,469.3 346.9,469.5 346.9,469.6 346.9,469.7 346.9,469.8 347.4,472.3 347.5,472.5 347.5,472.6 347.6,472.7 349.1,475.2 349.2,475.3 349.3,475.4 351.2,477.4 353.1,480.4 353.2,480.5 353.3,480.5 355.8,483.0 355.9,483.1 356.0,483.2 359.6,485.4 359.7,485.5 359.8,485.5 363.8,487.1 363.8,487.1 367.8,488.5 367.9,488.6 372.9,489.8 373.1,489.8 373.2,489.8 378.2,489.8 378.3,489.8 378.5,489.8 378.6,489.7 381.7,488.7 384.9,489.5 389.9,491.5 389.9,491.5 394.9,493.3 395.0,493.4 395.1,493.4 400.1,494.1 400.2,494.1 400.3,494.1 400.3,442.0 352.5,442.0" fill="rgb(0,210,140)"/>
<polygon points="400.0,442.0 480.3,442.0 480.3,504.2 400.0,504.2" fill="rgb(0,210,140)"/>
<polygon points="480.0,470.4 492.0,468.4 504.1,469.4 514.1,468.4 524.2,470.4 530.2,476.4 534.2,484.4 536.2,492.4 534.2,500.5 530.2,504.5 480.0,504.5" fill="rgb(0,210,140)"/>
<polygon points="557.3,447.3 560.3,445.9 564.3,443.9 567.8,439.2 572.4,437.8 577.4,439.4 583.4,444.3 589.4,446.7 596.5,445.9 602.5,443.9 608.5,440.6 612.5,437.0 617.6,431.2 622.6,429.2 625.6,431.8 627.6,437.0 625.6,442.2 620.6,446.3 612.5,449.3 608.5,451.3 600.5,453.3 592.4,454.3 584.4,456.3 576.4,457.3 568.4,455.3 562.3,451.3" fill="rgb(0,210,140)"/>
<polygon points="400.0,488.0 406.0,492.0 412.0,498.1 420.1,502.1 428.1,506.1 434.1,513.1 440.2,519.2 446.2,520.2 450.6,517.3 453.0,511.7 453.4,503.7 455.4,497.7 459.8,492.4 466.3,488.4 471.3,486.4 477.3,486.4 482.7,488.4 488.0,490.4 489.4,494.5 494.4,496.1 502.4,497.1 508.0,499.3 510.0,503.1 516.5,503.1 524.5,504.9 530.5,506.1 532.5,500.1 530.5,492.0 532.5,484.0 534.5,480.0 400.0,480.0" fill="rgb(0,210,140)"/>
<polygon points="540.0,490.1 544.0,490.1 547.0,498.2 546.0,506.2 540.0,507.2" fill="rgb(0,210,140)"/>
<polygon points="279.4,350.0 281.0,345.6 284.4,342.0 288.6,341.6 290.6,345.0 291.2,349.4 288.4,351.6 283.0,352.0" fill="rgb(0,210,140)"/>
<polygon points="305.2,357.6 310.0,354.6 316.0,351.2 321.6,350.4 325.6,352.0 329.0,357.0 334.4,360.0 340.0,358.0 341.6,351.0 345.6,346.4 350.0,349.0 354.4,350.0 359.6,351.0 362.4,352.8 360.4,356.0 358.6,359.0 359.8,364.8 366.0,369.6 372.0,372.8 380.0,376.0 380.0,380.4 304.8,380.4 304.0,374.0 304.0,366.0" fill="rgb(0,210,140)"/>
<polygon points="385.4,375.6 382.9,371.8 380.0,371.0 380.0,380.2 386.1,380.2" fill="rgb(0,210,140)"/>
<polygon points="314.0,378.5 313.9,378.5 313.8,378.5 313.7,378.5 313.6,378.6 313.5,378.6 313.4,378.7 313.4,378.7 313.3,378.8 313.2,378.9 313.2,379.0 313.1,379.0 313.1,379.1 313.0,379.2 313.0,379.3 313.0,379.4 313.0,379.5 313.0,379.6 313.0,379.7 313.1,379.8 313.1,379.9 315.1,384.4 315.1,384.5 315.2,384.6 315.2,384.7 315.3,384.7 315.4,384.8 315.5,384.8 315.6,384.9 321.6,387.9 321.6,387.9 321.7,388.0 321.8,388.0 321.9,388.0 322.1,388.0 322.2,388.0 322.3,388.0 322.4,387.9 330.4,384.9 330.4,384.9 330.5,384.8 330.6,384.8 330.7,384.7 330.8,384.6 330.8,384.6 333.8,380.1 333.9,380.0 333.9,379.9 334.0,379.8 334.0,379.7 334.0,379.6 334.0,379.5 334.0,379.4 334.0,379.3 334.0,379.2 333.9,379.1 333.9,379.0 333.8,378.9 333.8,378.9 333.7,378.8 333.6,378.7 333.6,378.7 333.5,378.6 333.4,378.6 333.3,378.5 333.2,378.5 333.1,378.5 333.0,378.5" fill="rgb(0,210,140)"/>
<polygon points="244.7,391.6 244.7,391.7 244.6,391.7 244.6,391.8 244.6,391.9 244.5,392.0 244.5,392.0 244.5,392.1 244.5,392.2 244.5,392.3 244.5,392.3 244.5,392.4 244.5,392.5 244.6,392.5 244.6,392.6 247.7,397.7 247.8,397.8 247.8,397.8 247.9,397.9 247.9,397.9 248.0,398.0 248.1,398.0 248.1,398.1 248.2,398.1 248.3,398.1 248.4,398.1 248.4,398.1 248.5,398.1 248.6,398.1 248.7,398.0 248.8,398.0 248.8,398.0 248.9,397.9 254.9,393.3 260.8,389.3 268.7,385.9 268.8,385.9 268.8,385.9 268.9,385.8 269.0,385.8 274.7,380.4 274.7,380.3 274.8,380.3 274.8,380.2 274.8,380.1 274.9,380.1 274.9,380.0 274.9,379.9 274.9,379.8 274.9,379.8 274.9,379.7 274.9,379.6 274.9,379.5 274.8,379.5 274.8,379.4 274.7,379.3 274.7,379.3 272.0,376.3 271.9,376.2 271.9,376.2 271.8,376.1 271.8,376.1 271.7,376.1 271.6,376.0 271.5,376.0 271.5,376.0 271.4,376.0 271.3,376.0 271.2,376.0 271.2,376.0 271.1,376.1 264.1,379.1 256.1,381.8 256.1,381.9 256.0,381.9 255.9,382.0 249.9,386.6 249.8,386.6" fill="rgb(0,210,140)"/>
<polygon points="209.4,167.1 211.4,161.1 214.4,158.1 216.8,159.1 216.0,165.1 214.4,170.2 212.4,173.2 210.4,171.2" fill="rgb(0,210,140)"/>
<polygon points="237.3,402.1 240.3,395.7 245.3,388.4 250.4,381.6 256.4,380.6 264.4,381.0 258.4,386.0 251.4,391.0 246.3,397.1 241.3,402.1" fill="rgb(0,220,0)"/>
<polygon points="292.5,420.2 296.5,416.1 304.6,414.1 309.6,416.1 309.6,422.2 304.6,426.2 298.6,427.2 293.5,424.2" fill="rgb(0,220,0)"/>
<polygon points="360.2,380.0 382.2,380.0 385.3,385.0 390.3,389.0 397.3,391.5 400.3,392.7 400.3,418.2 390.3,418.8 382.2,418.6 376.2,417.8 371.7,418.2 369.2,421.2 367.2,425.2 368.2,430.2 365.2,436.2 363.2,442.2 357.1,442.2 359.7,436.2 361.0,430.2 361.0,425.2 362.5,420.2 363.5,415.1 364.0,410.1 363.3,400.1 361.2,395.1 360.4,390.0 359.7,385.0" fill="rgb(0,220,0)"/>
<polygon points="442.7,395.1 440.2,400.1 439.7,405.1 439.7,410.1 439.7,415.1 440.2,420.2 440.2,425.2 440.2,430.2 439.2,435.2 438.2,442.2 477.3,442.2 474.3,436.4 472.0,432.4 470.5,428.4 469.0,425.4 465.5,421.6 460.2,415.8 460.0,410.1 456.2,405.6 452.2,400.6 449.2,396.6 446.7,394.1 445.2,392.9 443.9,393.6" fill="rgb(0,220,0)"/>
<polygon points="410.5,421.7 412.0,425.2 413.3,430.2 414.3,435.2 415.1,442.2 402.0,442.2 401.2,433.2 401.5,429.2 403.0,425.9 404.5,423.4 408.0,422.2" fill="rgb(0,220,0)"/>
<polygon points="400.0,392.9 402.8,392.0 405.5,394.1 408.0,397.9 410.4,403.3 411.9,408.3 412.6,410.6 411.2,413.6 409.2,416.9 407.0,419.4 404.5,421.0 402.0,423.2 400.0,424.2" fill="rgb(0,220,0)"/>
<polygon points="354.1,448.5 356.3,451.0 357.3,454.0 357.3,457.1 355.6,460.3 352.1,463.6 349.1,466.6 348.1,469.6 348.6,472.1 350.1,474.6 352.1,476.6 354.1,479.7 356.6,482.2 360.2,484.4 364.2,486.0 368.2,487.4 373.2,488.6 378.2,488.6 381.7,487.4 385.3,488.4 390.3,490.4 395.3,492.2 400.3,492.9 400.3,442.0 353.7,442.0" fill="rgb(0,220,0)"/>
<polygon points="440.2,504.2 441.2,498.2 442.2,492.2 447.2,489.2 452.2,486.2 458.2,482.2 464.3,480.2 470.3,481.2 474.3,483.2 480.3,484.2 480.3,486.9 476.3,485.9 471.3,486.4 466.3,487.9 461.2,490.4 456.2,494.4 453.2,499.4 452.2,504.2" fill="rgb(0,220,0)"/>
<polygon points="400.0,486.2 405.0,482.2 412.0,479.1 420.1,477.1 426.1,475.1 432.1,472.1 437.1,468.1 442.2,464.6 447.2,462.6 450.2,463.6 453.2,466.1 459.2,471.1 461.2,472.1 461.7,469.1 460.2,465.1 462.2,461.1 466.3,458.1 470.3,456.1 474.3,452.0 476.3,447.0 480.3,444.0 480.3,442.0 400.0,442.0" fill="rgb(0,220,0)"/>
<polygon points="480.0,478.4 490.0,476.4 500.1,477.4 512.1,479.4 522.2,482.4 528.2,488.4 529.2,495.5 524.2,498.5 514.1,497.5 504.1,494.5 492.0,492.4 484.0,489.4 480.0,488.4" fill="rgb(0,220,0)"/>
<polygon points="558.3,448.3 564.3,444.7 568.4,440.2 572.4,438.6 577.4,440.2 580.4,444.3 580.4,450.3 576.4,454.3 568.4,453.9 562.3,451.3" fill="rgb(0,220,0)"/>
<polygon points="596.5,447.3 602.5,444.7 608.5,441.4 612.5,437.8 617.6,432.2 622.6,430.2 625.0,432.6 626.6,437.2 623.6,440.2 618.6,442.2 612.5,444.3 606.5,448.3 600.5,449.3" fill="rgb(0,220,0)"/>
<polygon points="434.1,508.1 437.1,502.1 441.2,494.1 446.2,488.0 454.2,484.0 464.3,482.0 470.3,480.0 476.3,480.0 474.3,485.0 468.3,487.6 462.2,491.0 457.2,496.1 454.6,503.1 453.4,511.7 450.6,517.3 446.2,519.8 441.2,518.2 436.1,513.1" fill="rgb(0,220,0)"/>
<polygon points="505.4,485.0 509.4,484.0 512.4,488.0 509.4,492.0 506.0,490.0" fill="rgb(0,220,0)"/>
<polygon points="494.4,485.0 497.4,485.0 497.4,488.0 494.4,488.0" fill="rgb(0,220,0)"/>
<polygon points="280.6,349.0 282.0,345.6 284.8,343.0 288.4,342.8 289.8,345.6 290.0,349.0 287.6,350.4 283.2,350.6" fill="rgb(0,220,0)"/>
<polygon points="305.8,358.0 310.0,355.2 316.0,352.0 321.2,351.6 324.8,354.0 328.0,359.0 333.6,362.0 341.0,360.0 342.8,352.0 346.4,348.0 350.0,350.0 354.4,351.0 359.0,352.0 361.2,353.2 359.6,356.0 357.6,359.0 358.8,365.2 365.6,370.4 371.6,373.6 380.0,376.8 380.0,380.4 305.6,380.4 304.8,374.0 304.8,366.0" fill="rgb(0,220,0)"/>
<polygon points="260.0,380.4 265.0,377.0 268.0,374.6 270.0,376.0 267.0,380.4" fill="rgb(0,220,0)"/>
<polygon points="384.9,375.8 382.6,372.3 380.0,371.5 380.0,380.2 385.6,380.2" fill="rgb(0,220,0)"/>
<polygon points="314,379.5 333,379.5 330,384 322,387 316,384" fill="rgb(0,220,0)"/>
<polygon points="245.3,392.2 250.4,387.2 256.4,382.6 264.4,379.8 271.4,376.8 274.1,379.8 268.4,385.2 260.4,388.6 254.4,392.7 248.4,397.3" fill="rgb(0,220,0)"/>
<polygon points="247.8,388.0 251.4,383.0 256.4,382.0 258.4,384.0 253.4,388.0 249.4,391.0" fill="rgb(160,230,50)"/>
<polygon points="363.2,380.0 379.7,380.0 383.8,385.5 387.5,390.0 390.1,395.1 392.3,396.9 394.8,395.1 395.5,391.0 396.8,390.0 400.3,391.8 400.3,417.6 390.3,418.2 382.2,418.0 376.2,417.1 372.2,417.6 369.2,420.2 367.0,423.2 365.7,420.2 366.0,410.1 365.2,400.1 364.2,390.0" fill="rgb(160,230,50)"/>
<polygon points="445.7,398.6 445.2,400.1 444.2,405.1 443.7,410.1 443.7,415.1 444.2,420.2 444.7,425.2 444.2,430.2 443.2,435.2 441.7,442.2 474.8,442.2 472.3,435.2 470.8,430.2 469.3,425.4 464.3,420.2 459.2,415.1 457.7,410.1 453.2,405.1 448.2,400.1 446.7,398.6" fill="rgb(160,230,50)"/>
<polygon points="405.0,442.2 406.0,439.2 408.5,438.2 410.5,439.2 411.0,442.2" fill="rgb(160,230,50)"/>
<polygon points="400.0,393.3 402.7,392.6 405.2,394.6 407.6,398.3 410.0,403.5 411.4,408.5 411.9,410.6 410.7,413.4 408.7,416.5 406.2,419.0 404.0,420.2 401.5,421.7 400.0,422.2" fill="rgb(160,230,50)"/>
<polygon points="358.7,445.0 365.2,444.0 370.2,442.0 400.3,442.0 400.3,477.1 394.3,477.6 390.3,479.1 385.3,480.7 380.2,482.2 376.2,483.2 372.2,482.7 368.2,483.2 365.2,484.7 363.2,483.2 360.2,481.7 358.7,478.6 357.7,475.1 354.6,473.6 352.1,475.1 350.1,472.6 349.6,469.6 351.1,466.6 354.1,464.1 357.1,461.1 358.7,458.1 358.7,454.0 357.7,450.0" fill="rgb(160,230,50)"/>
<polygon points="400.0,475.6 406.0,474.1 413.1,472.6 420.1,471.1 424.1,467.1 429.1,464.6 435.1,462.1 442.2,459.1 448.2,457.1 452.2,455.6 460.2,456.1 466.3,453.0 472.3,448.0 476.3,442.0 400.0,442.0" fill="rgb(160,230,50)"/>
<polygon points="505.1,484.4 512.1,484.0 513.1,490.4 508.1,492.4 505.1,489.4" fill="rgb(160,230,50)"/>
<polygon points="568.4,441.2 572.4,439.4 577.0,441.2 579.4,445.3 578.4,449.3 573.4,451.3 569.4,448.3" fill="rgb(160,230,50)"/>
<polygon points="613.5,437.2 617.6,433.2 622.6,431.2 624.6,433.8 623.6,437.2 618.6,439.2 614.5,439.8" fill="rgb(160,230,50)"/>
<polygon points="283.2,345.0 286.0,343.6 288.6,345.0 288.6,348.0 285.6,349.0 283.2,347.6" fill="rgb(160,230,50)"/>
<polygon points="306.4,358.4 310.0,356.0 315.6,353.2 320.0,353.6 323.6,357.0 327.0,362.4 332.0,366.0 330.0,373.0 332.0,380.4 306.4,380.4 305.6,374.0 305.6,366.0" fill="rgb(160,230,50)"/>
<polygon points="342.4,361.0 344.0,353.6 347.2,349.6 350.0,351.0 354.4,352.0 358.0,353.0 359.6,354.0 358.4,356.4 356.6,359.4 357.8,365.6 364.8,371.2 371.0,374.4 380.0,377.6 380.0,380.4 344.0,380.4 342.4,372.0" fill="rgb(160,230,50)"/>
<polygon points="384.1,376.1 382.1,373.0 380.0,372.3 380.0,380.2 384.8,380.2" fill="rgb(160,230,50)"/>
<polygon points="317,379.5 331,379.5 327,383.5 321,385 318,383" fill="rgb(160,230,50)"/>
<polygon points="248.4,389.8 253.4,385.2 258.4,383.8 258.8,387.2 254.4,389.8 250.4,392.7" fill="rgb(160,230,50)"/>
<polygon points="366.7,380.0 377.2,380.0 381.2,383.0 384.8,388.0 386.5,393.1 388.8,399.1 391.8,402.6 394.1,399.1 396.1,395.1 398.1,391.2 400.3,391.8 400.3,416.9 390.3,417.6 382.2,417.3 376.2,416.5 372.2,417.1 369.7,418.7 368.2,415.1 368.0,410.1 366.7,400.1 366.2,390.0" fill="rgb(230,220,50)"/>
<polygon points="447.2,403.6 446.7,405.1 447.2,410.1 447.2,415.1 447.7,420.2 448.2,425.2 447.7,430.2 446.7,435.2 445.2,442.2 472.3,442.2 470.3,435.2 469.3,430.2 467.8,425.2 460.2,420.2 457.2,415.1 454.7,410.1 450.2,405.1 448.2,403.6" fill="rgb(230,220,50)"/>
<polygon points="400.0,393.8 402.6,393.1 405.0,395.1 407.2,398.7 409.5,403.7 410.8,408.7 411.2,410.6 410.0,413.2 408.0,415.9 405.5,418.2 403.0,419.2 400.0,419.7" fill="rgb(230,220,50)"/>
<polygon points="360.7,449.0 365.2,448.5 369.2,451.0 370.2,455.1 372.2,460.1 374.7,465.1 377.7,468.1 382.2,467.1 386.3,465.1 390.3,464.1 393.3,465.6 393.8,469.1 390.3,472.1 385.3,474.6 380.2,476.1 376.2,478.1 372.2,479.7 368.2,480.7 364.2,481.7 361.2,480.7 359.2,477.6 358.2,474.6 355.1,472.6 352.6,473.6 350.6,471.1 351.1,468.1 354.1,465.1 357.7,462.1 359.7,458.1 359.7,453.0" fill="rgb(230,220,50)"/>
<polygon points="432.1,457.1 435.1,455.1 438.2,451.0 439.2,446.0 442.2,442.0 474.3,442.0 470.3,447.0 464.3,451.5 456.2,452.0 450.2,454.0 443.2,457.1 436.1,458.1" fill="rgb(230,220,50)"/>
<polygon points="570.8,441.2 574.4,439.8 577.4,442.2 578.0,447.3 574.4,449.3 571.4,447.3" fill="rgb(230,220,50)"/>
<polygon points="616.5,434.6 621.6,432.6 623.0,435.2 619.6,437.2" fill="rgb(230,220,50)"/>
<polygon points="307.0,358.8 310.0,356.8 314.0,356.0 318.0,361.0 322.0,367.0 327.0,370.0 329.6,375.0 329.0,380.4 316.0,380.4 313.0,374.0 309.0,368.0 306.4,363.0" fill="rgb(230,220,50)"/>
<polygon points="347.0,351.0 351.0,352.0 353.6,356.0 356.0,363.0 360.0,367.0 363.0,370.4 361.0,374.0 357.0,375.0 352.0,373.6 348.0,369.0 345.0,362.0 344.4,355.0" fill="rgb(230,220,50)"/>
<polygon points="360.0,380.4 365.0,375.6 372.0,374.4 378.0,376.0 380.0,377.0 380.0,380.4" fill="rgb(230,220,50)"/>
<polygon points="384.0,380.2 383.4,376.4 381.6,373.6 380.0,373.2 380.0,380.2" fill="rgb(230,220,50)"/>
<polygon points="320,379.5 329,379.5 325,382.5 322,382.5" fill="rgb(230,220,50)"/>
<polygon points="370.2,380.0 374.7,380.0 379.2,382.5 382.8,387.0 384.5,393.1 385.8,400.1 388.3,405.1 392.3,406.3 394.8,403.6 396.8,397.6 398.8,393.6 400.3,392.9 400.3,416.3 394.3,416.7 388.3,417.1 382.2,416.6 376.2,416.1 372.7,416.3 370.7,413.1 369.4,405.1 368.2,395.1 368.7,386.0" fill="rgb(230,175,45)"/>
<polygon points="452.2,424.2 456.2,422.7 460.2,423.7 463.3,423.7 466.3,425.2 467.5,430.2 468.3,435.2 469.3,442.2 447.2,442.2 448.7,435.2 449.7,430.2 451.2,425.2" fill="rgb(230,175,45)"/>
<polygon points="400.0,394.3 402.5,393.6 404.7,395.6 406.8,399.1 409.0,404.1 410.2,408.9 410.5,410.6 409.3,412.9 407.2,415.3 404.8,417.1 402.5,418.0 400.0,418.2" fill="rgb(230,175,45)"/>
<polygon points="355.6,468.1 358.2,465.1 362.2,464.6 366.2,466.1 369.2,468.6 370.7,472.1 369.2,474.6 365.2,475.1 361.2,474.6 358.2,473.6 356.1,472.1" fill="rgb(230,175,45)"/>
<polygon points="444.2,442.0 444.7,446.0 448.2,448.0 454.2,448.5 460.2,447.0 465.3,444.5 467.3,442.0" fill="rgb(230,175,45)"/>
<polygon points="572.4,441.2 575.4,440.6 576.4,444.3 573.4,445.3" fill="rgb(230,175,45)"/>
<polygon points="321.0,369.0 326.0,370.4 329.0,375.0 325.0,377.4 322.0,374.0" fill="rgb(230,175,45)"/>
<polygon points="369.0,380.4 371.0,375.0 376.0,374.4 380.0,377.0 380.0,380.4" fill="rgb(230,175,45)"/>
<polygon points="380.8,379.2 382.8,379.2 382.4,376.8 380.9,374.5 380.8,374.5" fill="rgb(230,175,45)"/>
<polygon points="370.2,384.5 373.2,382.5 377.2,383.5 381.2,387.0 383.8,392.0 384.3,398.1 382.8,404.1 380.2,409.1 376.2,413.1 373.2,414.1 371.7,411.1 370.7,405.1 370.2,398.1 369.7,390.0" fill="rgb(240,130,40)"/>
<polygon points="400.3,394.6 398.1,397.1 396.5,403.1 394.8,406.6 391.8,409.1 389.3,412.1 390.3,414.6 394.3,415.1 400.3,414.6" fill="rgb(240,130,40)"/>
<polygon points="454.2,425.7 459.2,424.7 463.3,425.7 464.8,427.2 465.8,430.2 466.3,435.2 465.3,442.2 449.2,442.2 450.2,435.2 450.7,432.2 451.7,429.2" fill="rgb(240,130,40)"/>
<polygon points="400.0,394.9 402.4,394.3 404.4,396.3 406.3,399.6 408.4,404.4 409.5,408.9 409.6,410.6 408.5,412.4 406.4,414.4 404.0,415.6 400.0,416.1" fill="rgb(240,130,40)"/>
<polygon points="361.8,456.2 362.6,456.2 362.6,457.0 361.8,457.0" fill="rgb(240,130,40)"/>
<polygon points="448.2,442.0 450.2,443.5 454.2,443.8 456.2,442.0" fill="rgb(240,130,40)"/>
<polygon points="372.4,380.4 374.0,377.6 378.4,377.6 380.0,378.6 380.0,380.4" fill="rgb(240,130,40)"/>
<polygon points="372.2,386.0 374.7,385.0 378.2,387.0 381.2,391.0 381.7,396.1 380.2,400.1 378.2,401.6 376.2,399.1 374.2,395.1 372.7,390.0" fill="rgb(250,60,60)"/>
<polygon points="400.3,397.6 398.8,399.1 397.8,403.1 398.3,406.6 400.3,407.6" fill="rgb(250,60,60)"/>
<polygon points="452.7,437.0 455.7,436.8 455.8,437.7 452.8,437.9" fill="rgb(250,60,60)"/>
<polygon points="400.0,395.9 402.2,395.3 404.0,397.3 405.6,400.3 407.2,404.8 407.8,409.1 407.2,411.3 405.5,412.6 403.0,413.1 400.0,413.1" fill="rgb(250,60,60)"/>
<polygon points="374.7,388.0 376.2,387.5 379.2,391.0 380.2,394.1 378.7,395.1 376.7,392.0" fill="rgb(240,0,130)"/>
<polygon points="400.8,399.1 402.2,398.6 403.8,401.1 405.0,405.1 405.2,408.6 404.0,409.6 402.5,408.1 401.2,404.1" fill="rgb(240,0,130)"/>
<polygon points="399.0,458.9 402.8,458.9 402.8,460.8 399.0,460.8" fill="rgb(160,230,50)"/>
<polygon points="360.0,435.6 364.5,437.5 369.8,442.8 375.0,446.1 377.3,448.4 376.1,452.5 373.9,456.3 372.0,460.8 372.4,463.8 375.0,466.0 380.3,465.6 384.8,464.5 388.9,463.4 393.4,460.4 397.5,457.0 400.5,453.3 403.1,448.8 405.0,441.3 408.0,439.0 412.5,439.8 417.0,444.3 420.0,445.0 420.0,430.0 360.0,430.0" fill="rgb(0,220,0)"/>
<polygon points="414.1,442.0 416.1,445.0 421.1,446.5 423.1,449.5 428.1,450.0 433.1,448.0 433.1,445.0 440.2,444.0 441.2,442.0" fill="rgb(0,220,0)"/>
<polygon points="400.0,459.1 402.5,459.1 402.5,461.1 400.0,461.1" fill="rgb(0,220,0)"/>
<polygon points="346.0,363.0 348.0,360.4 353.0,369.0 361.0,380.4 355.0,380.4 351.0,372.0" fill="rgb(0,220,0)"/>
<polygon points="364.5,430.0 366.0,434.5 371.3,440.9 376.1,443.5 378.8,445.8 379.4,448.4 378.0,452.5 375.8,456.3 373.9,460.0 374.3,463.4 377.3,464.5 380.3,464.1 384.0,463.4 387.8,462.3 392.3,459.3 396.0,455.9 399.0,452.1 401.6,447.3 403.1,443.1 404.3,439.8 405.0,436.0 405.4,433.0 405.0,430.0" fill="rgb(0,210,140)"/>
<polygon points="411.8,430.0 412.5,433.0 415.5,436.0 420.0,437.5 420.0,430.0" fill="rgb(0,210,140)"/>
<polygon points="344.4,366.0 346.0,363.0 351.0,372.0 355.0,380.4 352.0,380.4 349.0,375.0" fill="rgb(0,210,140)"/>
<polygon points="367.5,430.0 368.3,434.5 372.8,440.1 377.3,442.4 380.3,445.0 381.0,448.0 379.5,452.5 377.3,456.3 375.4,460.0 376.1,462.6 379.5,463.0 383.3,462.3 387.0,461.1 391.5,458.1 395.3,454.8 398.3,451.0 400.5,446.5 402.0,442.4 403.5,439.4 404.4,436.0 404.8,433.0 404.5,430.0" fill="rgb(0,200,200)"/>
<polygon points="440.2,472.1 443.2,470.9 448.2,472.1 449.2,476.1 446.2,477.9 441.2,477.1" fill="rgb(0,200,200)"/>
<polygon points="416.1,488.2 420.1,485.2 430.1,484.2 435.1,485.7 434.1,489.2 431.1,492.2 425.1,495.2 419.1,494.7 416.6,491.7" fill="rgb(0,200,200)"/>
<polygon points="467.3,470.1 470.3,467.1 474.8,468.1 476.3,472.1 473.3,475.1 469.3,474.6" fill="rgb(0,200,200)"/>
<polygon points="400.0,492.2 404.0,494.2 410.0,496.2 415.1,498.2 418.6,504.2 400.0,504.2" fill="rgb(0,200,200)"/>
<polygon points="480.3,446.0 476.3,448.0 474.3,452.0 473.8,458.1 474.8,464.1 477.3,467.1 480.3,468.1" fill="rgb(0,200,200)"/>
<polygon points="416.1,488.0 422.1,484.4 432.1,485.0 435.1,490.0 430.1,494.1 420.1,493.7" fill="rgb(0,200,200)"/>
<polygon points="400.0,480.0 400.0,492.0 404.0,488.0 408.0,480.0" fill="rgb(0,200,200)"/>
<polygon points="342.4,370.4 344.4,366.0 349.0,375.0 352.0,380.4 348.0,380.4 345.0,375.0" fill="rgb(0,200,200)"/>
<polygon points="369.4,430.0 370.1,434.5 373.9,439.4 378.4,441.3 381.4,443.9 382.5,447.6 381.0,452.5 378.8,457.0 377.4,460.0 378.8,461.5 382.5,461.1 386.3,460.0 390.8,457.0 394.5,453.6 397.5,449.9 399.4,445.8 400.9,442.0 402.4,439.0 403.7,436.0 404.3,433.0 404.0,430.0" fill="rgb(0,160,255)"/>
<polygon points="400.0,496.2 403.5,496.7 405.5,504.2 400.0,504.2" fill="rgb(0,160,255)"/>
<polygon points="480.3,451.5 478.3,453.0 477.3,457.1 477.8,462.1 480.3,464.6" fill="rgb(0,160,255)"/>
<polygon points="540.6,480.0 538.6,488.0 540.6,496.1 548.6,499.1 556.6,500.1 560.6,499.1 560.6,480.0" fill="rgb(0,160,255)"/>
<polygon points="316.0,351.0 322.0,348.4 328.0,346.0 332.0,343.0 338.0,344.0 340.0,350.0 338.4,357.0 335.0,359.0 330.0,356.0 325.0,353.0 320.0,354.0" fill="rgb(0,160,255)"/>
<polygon points="330.4,366.0 333.0,362.4 336.4,360.8 339.2,357.2 340.8,361.0 341.8,368.0 340.8,374.4 338.4,378.8 335.6,376.4 331.4,371.2" fill="rgb(0,160,255)"/>
<polygon points="340.0,375.0 342.4,370.4 345.0,375.0 348.0,380.4 339.2,380.4" fill="rgb(0,160,255)"/>
<polygon points="254.4,399.1 264.4,392.0 276.5,389.0 288.5,391.0 298.6,398.1 300.6,404.1 288.5,405.1 272.4,407.1 260.4,408.1 254.4,405.1" fill="rgb(30,60,255)"/>
<polygon points="331.0,396.6 334.1,398.1 332.6,399.6 330.8,399.1" fill="rgb(30,60,255)"/>
<polygon points="422.6,408.3 429.1,407.1 432.1,412.1 430.1,417.3 425.1,416.8 422.6,413.3" fill="rgb(30,60,255)"/>
<polygon points="423.3,419.7 427.1,419.2 428.3,423.2 426.6,428.4 422.6,427.9 421.1,425.2" fill="rgb(30,60,255)"/>
<polygon points="371.3,430.0 372.0,434.5 375.0,438.3 379.5,439.8 382.5,442.8 384.0,447.3 382.5,452.5 380.3,457.0 379.5,459.6 381.8,460.0 385.5,458.9 390.0,455.5 393.8,452.5 396.8,448.8 398.3,445.0 399.8,441.3 401.3,438.6 403.1,436.0 403.7,433.0 403.5,430.0" fill="rgb(30,60,255)"/>
<polygon points="452.4,504.2 453.4,499.3 456.4,494.3 461.3,490.4 466.3,487.9 471.3,486.4 476.3,485.9 480.3,486.9 480.3,504.2" fill="rgb(30,60,255)"/>
<polygon points="538.2,460.3 544.3,457.3 550.3,460.3 556.3,468.4 560.3,474.4 556.3,476.4 550.3,472.4 544.3,468.4 539.2,464.3" fill="rgb(30,60,255)"/>
<polygon points="492.4,452.7 502.1,453.5 510.1,454.7 520.2,454.9 522.2,457.3 521.2,459.5 516.1,460.7 508.1,461.1 500.1,460.1 493.3,457.9" fill="rgb(30,60,255)"/>
<polygon points="584.8,459.5 589.4,455.7 595.5,454.7 602.5,452.7 608.9,450.7 611.5,451.9 606.1,455.9 604.9,459.9 600.9,462.9 594.5,465.1 589.0,464.5 585.8,462.7" fill="rgb(30,60,255)"/>
<polygon points="617.3,562.4 620.3,562.4 620.3,569.4 617.3,569.4" fill="rgb(30,60,255)"/>
<polygon points="540.0,464.0 548.0,463.0 558.1,470.0 560.1,476.1 552.0,478.1 546.0,472.0 540.0,471.0" fill="rgb(30,60,255)"/>
<polygon points="319.0,350.0 325.0,347.6 330.0,346.0 334.0,346.0 335.0,351.0 333.0,355.0 328.0,354.0 323.0,352.4" fill="rgb(30,60,255)"/>
<polygon points="331.6,366.4 333.6,363.6 336.8,362.0 338.8,359.6 340.0,362.0 340.8,368.0 340.0,374.0 338.0,377.6 336.4,375.6 332.6,370.8" fill="rgb(30,60,255)"/>
<polygon points="283.2,356.0 294.2,351.0 304.3,360.0 312.3,370.1 319.3,380.1 322.3,390.2 323.3,401.2 318.3,409.2 308.3,409.2 300.2,402.2 296.2,394.2 295.2,386.1 290.2,384.1 285.2,378.1 282.2,368.1" fill="rgb(30,60,255)"/>
<polygon points="480.3,437.9 487.8,434.1 495.4,436.6 500.4,442.9 499.1,450.4 492.8,455.4 485.3,452.9 480.3,445.4" fill="rgb(30,60,255)"/>
<polygon points="490.3,440.4 505.4,444.1 520.5,447.9 535.5,445.4 540.5,440.4 535.5,437.9 520.5,440.4 505.4,439.1 495.4,436.6" fill="rgb(30,60,255)"/>
<polygon points="262.8,399.1 268.4,394.5 276.5,393.1 282.5,397.7 279.5,402.5 272.4,405.7 266.4,403.7" fill="rgb(130,0,220)"/>
<polygon points="330.0,384.0 340.1,383.0 345.1,386.0 349.1,389.0 352.1,394.1 355.3,400.1 357.1,406.1 357.1,412.1 355.3,417.1 352.6,422.2 350.1,426.2 347.1,429.2 344.1,430.2 340.1,429.7 335.1,431.7 331.0,433.2 330.0,428.2 329.0,423.2 327.0,418.2 324.5,413.1 323.0,411.1 326.0,408.1 327.5,406.6 329.0,403.6 329.5,400.1 330.0,395.1 329.5,390.0 328.0,387.0" fill="rgb(130,0,220)"/>
<polygon points="320.0,436.2 324.0,436.7 328.0,436.2 332.0,435.0 336.1,433.7 340.1,431.7 343.6,432.2 346.1,433.7 348.1,435.2 348.6,438.2 350.1,440.2 351.1,442.2 320.0,442.2" fill="rgb(130,0,220)"/>
<polygon points="374.7,422.2 380.2,421.2 390.3,421.7 400.3,420.2 400.3,438.7 395.3,436.4 390.3,433.0 385.3,430.5 380.2,428.5 376.2,426.4" fill="rgb(130,0,220)"/>
<polygon points="390.3,380.0 400.3,380.0 400.3,387.5 396.3,386.0 392.8,384.0" fill="rgb(130,0,220)"/>
<polygon points="399,419.5 404,422 403,425 401.5,428 401,432 402.5,434 401,437 399,438" fill="rgb(130,0,220)"/>
<polygon points="375.0,430.0 375.4,435.3 378.4,435.6 381.8,433.4 385.1,435.3 385.4,439.8 386.1,445.0 386.1,451.8 388.4,453.4 391.4,451.9 393.0,448.8 394.9,445.0 395.9,441.3 395.4,437.5 400.5,437.5 402.0,436.0 403.5,433.8 403.1,430.0" fill="rgb(130,0,220)"/>
<polygon points="453.2,504.2 454.2,499.4 457.0,494.9 461.7,491.2 466.5,488.7 471.5,487.2 476.3,486.7 480.3,487.7 480.3,504.2" fill="rgb(130,0,220)"/>
<polygon points="494.1,453.9 502.1,455.3 510.1,456.3 519.2,456.3 520.2,458.3 516.1,459.3 508.1,459.7 500.1,458.7 495.1,456.9" fill="rgb(130,0,220)"/>
<polygon points="587.4,459.9 590.4,457.3 596.5,456.3 602.5,454.7 606.5,453.9 604.5,457.3 602.5,459.9 599.5,461.9 594.5,463.3 590.0,462.9" fill="rgb(130,0,220)"/>
<polygon points="480.0,490.0 488.0,496.1 500.1,498.1 506.1,502.1 509.1,504.5 480.0,504.5" fill="rgb(130,0,220)"/>
<polygon points="606.3,554.4 609.3,549.4 616.3,549.4 620.3,554.4 622.3,558.4 620.3,564.4 617.3,572.4 614.3,578.5 612.3,584.5 608.3,580.5 605.3,568.4 603.3,560.4" fill="rgb(130,0,220)"/>
<polygon points="289.0,363.0 294.0,360.4 300.0,362.0 302.0,368.0 301.0,375.0 300.0,380.4 288.0,380.4 287.0,372.0" fill="rgb(130,0,220)"/>
<polygon points="321.0,348.0 326.0,346.6 330.0,347.6 329.6,352.4 325.0,352.0" fill="rgb(130,0,220)"/>
<polygon points="333.2,367.0 335.0,364.6 338.0,363.2 339.2,368.0 338.8,373.6 337.2,375.6 334.4,370.4" fill="rgb(130,0,220)"/>
<polygon points="288.2,358.0 294.2,356.0 300.2,362.0 308.3,372.1 314.3,380.1 317.3,390.2 318.3,400.2 314.3,405.2 308.3,404.2 303.3,398.2 300.2,390.2 299.2,382.1 294.2,380.1 289.2,374.1 287.2,366.1" fill="rgb(130,0,220)"/>
<polygon points="265.4,399.5 269.4,396.1 276.1,395.1 280.1,398.1 277.5,401.5 272.4,403.7 268.0,402.5" fill="rgb(160,0,200)"/>
<polygon points="331.0,386.0 339.1,385.5 342.6,389.5 343.3,395.1 342.6,400.1 341.9,405.9 339.1,406.3 336.6,405.1 334.1,408.9 330.0,408.3 329.2,404.1 330.0,400.1 330.5,395.1 330.0,390.0" fill="rgb(160,0,200)"/>
<polygon points="344.1,393.1 347.1,393.6 350.1,398.1 348.6,400.6 345.6,398.1" fill="rgb(160,0,200)"/>
<polygon points="320.0,438.7 326.0,438.7 332.0,437.2 337.1,435.7 341.1,434.7 344.6,436.2 346.3,439.2 347.1,442.2 320.0,442.2" fill="rgb(160,0,200)"/>
<polygon points="384.3,423.4 400.3,422.2 400.3,436.7 394.3,434.4 389.3,430.5 385.3,427.4" fill="rgb(160,0,200)"/>
<polygon points="399,421 402,423 401,426 400,429 399.5,433 399,436" fill="rgb(160,0,200)"/>
<polygon points="462.2,504.2 462.8,498.2 466.3,493.2 472.3,490.2 480.3,491.2 480.3,504.2" fill="rgb(160,0,200)"/>
<polygon points="497.1,455.3 510.1,457.1 518.2,457.3 515.1,458.7 508.1,458.9 500.1,457.9" fill="rgb(160,0,200)"/>
<polygon points="589.4,459.9 596.5,457.9 601.5,456.7 600.5,459.9 595.5,461.9 590.8,461.9" fill="rgb(160,0,200)"/>
<polygon points="480.0,495.5 488.0,500.5 498.1,502.5 502.1,504.5 480.0,504.5" fill="rgb(160,0,200)"/>
<polygon points="335.5,490.6 350.6,498.1 365.6,503.2 370.6,506.9 360.6,511.9 345.5,514.4 336.8,508.2" fill="rgb(160,0,200)"/>
<polygon points="717.2,72 717.2,75.2 728.0,75.2 728.0,78.4 738.8,78.4 738.8,81.60000000000001 749.5999999999999,81.60000000000001 749.5999999999999,84.80000000000001 760.3999999999999,84.80000000000001 760.3999999999999,88.00000000000001 771.1999999999998,88.00000000000001 771.1999999999998,91.20000000000002 781.9999999999998,91.20000000000002 780,91.20000000000002 780,70" fill="#fff"/>
<polygon points="800,250 776.6,250 776.6,253.3 776.5,253.3 776.5,256.5 773.9,256.5 773.9,259.8 771.2,259.8 771.2,263.0 768.5,263.0 768.5,266.2 768.5,266.2 768.5,269.4 765.8,269.4 765.8,272.7 763.1,272.7 763.1,275.9 760.4,275.9 760.4,279.1 760.4,279.1 760.4,282.3 757.7,282.3 757.7,285.6 755.0,285.6 755.0,288.8 752.3,288.8 752.3,292.0 752.3,292.0 752.3,295.2 749.6,295.2 749.6,298.5 747.0,298.5 747.0,301.7 744.3,301.7 744.3,304.9 741.6,304.9 741.6,308.1 738.9,308.1 738.9,311.4 738.9,311.4 738.9,314.6 736.2,314.6 736.2,317.8 733.5,317.8 733.5,321.0 730.8,321.0 730.8,324.3 728.1,324.3 728.1,327.5 725.4,327.5 725.4,330.7 722.7,330.7 722.7,333.9 720.1,333.9 720.1,337.2 717.4,337.2 717.4,340.4 717.4,340.4 717.4,343.6 714.7,343.6 714.7,346.8 714.7,346.8 714.7,350.1 712.0,350.1 712.0,353.3 712.0,353.3 712.0,356.5 709.3,356.5 709.3,359.7 706.6,359.7 706.6,363.0 706.6,363.0 706.6,366.2 703.9,366.2 703.9,369.4 703.9,369.4 703.9,372.6 701.2,372.6 701.2,375.9 698.5,375.9 698.5,379.1 698.5,379.1 698.5,382.3 695.9,382.3 695.9,385.5 695.9,385.5 695.9,388.8 693.2,388.8 693.2,392.0 690.5,392.0 690.5,395.2 690.5,395.2 690.5,398.5 687.8,398.5 687.8,401.7 687.8,401.7 687.8,404.9 685.1,404.9 685.1,408.1 685.1,408.1 685.1,411.4 682.4,411.4 682.4,414.6 679.7,414.6 679.7,417.8 679.7,417.8 679.7,421.0 677.0,421.0 677.0,424.3 677.0,424.3 677.0,427.5 674.3,427.5 674.3,430.7 671.6,430.7 671.6,433.9 671.6,433.9 671.6,437.2 669.0,437.2 669.0,440.4 669.0,440.4 669.0,443.6 666.3,443.6 666.3,446.8 666.3,446.8 666.3,450.1 663.6,450.1 663.6,453.3 660.9,453.3 660.9,456.5 660.9,456.5 660.9,459.7 658.2,459.7 658.2,463.0 658.2,463.0 658.2,466.2 655.5,466.2 655.5,469.4 655.5,469.4 655.5,472.6 652.8,472.6 652.8,475.9 652.8,475.9 652.8,479.1 650.1,479.1 650.1,482.3 650.1,482.3 650.1,485.5 650.1,485.5 650.1,488.8 647.4,488.8 647.4,492.0 647.4,492.0 647.4,495.2 644.7,495.2 644.7,498.4 644.7,498.4 644.7,501.7 642.1,501.7 642.1,504.9 642.1,504.9 642.1,508.1 639.4,508.1 639.4,511.3 639.4,511.3 639.4,514.6 636.7,514.6 636.7,517.8 636.7,517.8 636.7,521.0 634.0,521.0 634.0,524.3 634.0,524.3 634.0,527.5 634.0,527.5 634.0,530.7 631.3,530.7 631.3,533.9 631.3,533.9 631.3,537.2 628.6,537.2 628.6,540.4 628.6,540.4 628.6,543.6 628.6,543.6 628.6,546.8 625.9,546.8 625.9,550.1 625.9,550.1 625.9,553.3 623.2,553.3 623.2,556.5 623.2,556.5 623.2,559.7 620.5,559.7 620.5,563.0 620.5,563.0 620.5,566.2 620.5,566.2 620.5,569.4 617.8,569.4 617.8,572.6 617.8,572.6 617.8,575.9 615.2,575.9 615.2,579.1 615.2,579.1 615.2,582.3 615.2,582.3 615.2,585.5 612.5,585.5 612.5,588.8 612.5,588.8 612.5,592.0 609.8,592.0 609.8,595.2 800,595.2135999999986" fill="#fff"/>
<polygon points="120,590 120,586 130.5,586 130.5,582.6 145.5,582.6 145.5,579.4 155,579.4 155,576.4 170.6,576.4 170.6,573.4 188,573.4 188,570.4 205.5,570.4 205.5,566.8 227.6,566.8 227.6,563.6 254.7,563.6 254.7,560.4 394.5,560.4 394.5,563.6 422,563.6 422,566.8 443.2,566.8 443.2,569.9 462,569.9 462,572.9 478.3,572.9 478.3,576 494,576 494,579.2 504,579.2 504,582.4 515.4,582.4 515.4,585.6 529,585.6 529,590" fill="#fff"/>
<polygon points="20,549.6 26,549.6 26,556 28.6,556 28.6,566 31.5,566 31.5,575 34.2,575 34.2,582 37,582 37,590 20,590" fill="#fff"/>
</g>
<text x="224" y="585.6" font-size="13.5" textLength="352" lengthAdjust="spacing" font-family="'Liberation Serif',serif" font-style="italic" style="font-family:'Liberation Serif',serif;fill:#a8a8a8" fill="#a8a8a8" stroke="#a8a8a8" stroke-width="0.3" xml:space="preserve">Hydrological and Meteorological service of Montenegro</text>
<g clip-path="url(#cp)" fill="none" stroke="#000" stroke-width="2.0" stroke-linejoin="round" stroke-linecap="round" shape-rendering="crispEdges">
<path d="M160.0 431.2 L164.4 431.4 L168.4 434.6 L171.2 438.6 L174.5 443.7 L179.5 446.7 L180.7 444.7 L182.5 441.2 L190.1 438.2 L200.2 438.2 L210.2 437.2 L218.2 433.2 L224.3 427.2 L231.3 425.2 L233.3 419.2 L237.3 414.1 L240.3 411.1 L236.3 407.1 L235.3 401.1 L239.3 395.1 L244.3 388.0 L250.4 381.0 L252.4 378.0 M160.0 474.4 L166.0 468.4 L170.0 460.3 L173.1 450.3 L179.1 448.3 L182.1 451.3 L186.1 455.3 L194.1 457.3 L206.2 457.3 L208.2 458.3 L218.2 458.3 L224.3 455.3 L230.3 450.3 L236.3 449.3 L242.3 444.3 L248.4 440.2 L256.4 439.2 L264.4 439.2 L272.4 436.2 L280.5 435.2 L292.5 435.2 L297.6 437.2 L304.6 434.2 L310.6 433.2 L320.6 434.2 M264.4 399.7 L269.4 396.1 L275.5 395.7 L277.5 398.5 L274.9 401.7 L271.4 404.1 L268.4 402.1 Z M252.8 407.1 L256.0 406.5 L256.4 410.1 L254.0 412.1 L252.0 409.7 Z M280.1 394.5 L283.5 393.7 L285.5 396.1 L282.5 397.1 Z M174.1 397.7 L180.1 397.1 L181.1 398.1 M179.1 407.7 L184.1 404.1 L185.7 403.1 L185.1 405.7 M209.2 387.0 L210.6 386.0 L210.2 390.0 M327.5 379.5 L326.5 384.0 L327.5 387.0 L329.5 390.0 L330.0 395.1 L329.0 400.1 L328.5 404.1 L327.0 406.1 L328.5 407.6 L331.0 408.6 L333.6 409.1 L335.1 407.1 L336.6 405.1 L339.1 406.6 L341.6 406.1 L342.6 400.1 L343.6 395.1 L344.1 390.0 L343.6 386.0 L341.6 382.0 L341.1 379.5 M319.5 434.2 L323.0 435.0 L327.0 434.7 L331.0 433.7 L335.1 432.2 L339.1 430.2 L342.1 429.7 L344.6 431.2 L347.1 432.2 L349.1 433.7 L349.6 436.7 L352.1 438.7 L354.6 437.2 L356.1 433.7 L357.7 433.2 L358.0 436.2 L356.6 439.2 L354.6 442.2 M400.3 418.7 L396.3 419.7 L390.3 420.2 L384.3 420.2 L380.2 419.7 L376.2 419.2 L373.2 419.7 L371.2 422.2 L372.7 425.2 L375.2 427.2 L380.2 429.2 L385.3 431.2 L390.3 433.7 L395.3 437.2 L400.3 439.2 M387.3 379.5 L389.3 383.0 L392.3 385.5 L395.3 387.0 L398.3 388.5 L400.3 390.0 M398.8 414.1 L400.0 415.3 M344.3 431.0 L345.1 430.7 L345.1 431.7 M417.1 379.5 L421.1 381.0 L425.1 384.0 L429.1 385.5 L432.1 386.5 L434.6 389.0 L436.6 391.5 L437.7 394.1 L436.6 396.6 L434.6 396.6 L433.1 393.1 L430.6 391.0 L427.1 390.0 L424.6 389.5 L422.6 388.5 L420.1 389.5 L418.1 391.5 L417.1 394.1 L416.1 397.1 L417.6 399.6 L420.1 401.1 L422.6 402.6 L423.6 405.1 L422.6 407.6 L420.1 409.1 L417.6 411.1 L415.1 414.1 L413.1 417.1 L410.5 419.7 L408.0 420.2 L406.5 420.7 L404.5 422.2 L403.0 424.7 L401.5 428.2 L401.0 432.2 L402.0 436.2 L401.5 439.2 L400.5 442.2 M447.2 379.5 L446.7 384.0 L446.2 389.0 L448.2 392.0 L451.2 395.1 L453.2 397.1 L454.7 400.1 L457.2 403.1 L460.2 406.1 L462.2 407.6 L465.3 408.1 L464.3 410.1 L461.2 411.1 L460.2 414.1 L459.2 417.1 L460.2 420.2 L462.2 422.2 L465.3 421.2 L467.3 419.7 L470.3 417.7 L474.3 416.1 L480.3 415.1 M465.3 421.7 L468.3 425.2 L470.3 429.2 L471.8 434.2 L474.3 437.2 L476.3 440.2 L478.3 442.2 M450.2 397.6 L452.2 396.6 L455.2 401.1 L456.2 405.1 L454.7 405.6 L452.7 401.6 Z M458.2 416.6 L461.2 415.6 L462.8 418.7 L460.2 420.2 L458.2 419.2 Z M460.2 381.0 L462.2 380.0 L465.3 382.0 L465.8 384.5 L464.3 385.0 L462.8 383.0 L460.7 383.5 Z M400.0 418.9 L403.0 420.0 L406.5 420.7 M399.5 390.0 L403.0 391.2 L406.0 393.6 L408.5 397.6 L410.8 403.1 L412.2 408.1 L413.1 410.6 L411.8 413.6 L409.8 417.1 L408.0 420.0 M351.1 441.5 L352.1 445.0 L354.1 448.5 L356.6 450.5 L358.0 454.0 L358.2 457.1 L356.6 460.1 L354.1 463.1 L350.1 466.1 L347.6 468.6 L346.6 471.6 L348.1 474.6 L351.1 476.6 L353.6 477.1 L354.1 474.6 L356.1 474.1 L357.7 476.1 L357.1 478.6 L358.2 481.2 L360.2 482.7 L364.2 484.2 L368.2 486.2 L372.2 487.2 L377.2 487.7 L381.2 486.2 L385.3 487.2 L390.3 489.2 L394.3 491.2 L400.3 492.2 M353.6 474.6 L355.6 473.9 L357.3 475.6 L356.6 478.6 L354.6 479.3 L353.6 477.1 Z M382.5 430.0 L385.5 430.8 L390.0 432.6 L393.0 434.5 L396.0 436.4 L400.5 437.5 L402.0 436.0 L403.5 433.8 L402.8 430.0 L402.4 428.5 M399.5 493.2 L403.0 495.2 L404.5 500.2 L405.5 504.2 M452.2 504.2 L453.2 499.2 L456.2 494.2 L461.2 490.2 L466.3 487.7 L471.3 486.2 L476.3 485.7 L480.3 486.7 M480.0 488.4 L488.0 494.5 L500.1 496.5 L506.1 500.5 L510.1 504.5 M532.2 436.2 L538.2 435.2 L544.3 434.2 L550.3 438.2 L555.3 440.2 L560.3 443.3 L564.3 441.2 L567.3 437.2 L571.4 435.8 L576.4 437.2 L580.4 439.2 L584.4 443.3 L589.4 445.3 L596.5 444.3 L602.5 442.2 L608.5 439.2 L612.5 437.2 L616.5 438.2 L620.6 439.8 L624.6 437.2 L627.6 435.2 L628.6 438.2 L626.6 442.2 L625.6 448.3 L624.6 456.3 L623.4 461.3 M585.4 459.3 L589.4 456.3 L595.5 455.3 L602.5 453.3 L608.5 451.3 L610.5 451.9 L605.5 455.3 L604.5 459.3 L600.5 462.3 L594.5 464.3 L589.4 463.9 L586.4 462.3 Z M492.0 453.3 L496.1 452.3 L502.1 454.3 L510.1 455.3 L518.2 455.3 L521.2 456.3 L521.2 458.7 L516.1 459.9 L508.1 460.3 L500.1 459.3 L494.1 457.3 Z M529.2 450.3 L531.2 449.3 L531.8 454.3 L529.8 454.7 Z M595.5 408.1 L598.5 406.1 L601.5 410.1 L600.5 414.1 L597.5 413.1 Z M569.4 418.2 L571.4 417.1 L572.0 422.2 L570.0 422.6 Z M575.4 422.2 L578.4 421.2 L580.0 425.2 L577.4 426.6 Z M399.0 492.4 L400.0 493.1 L403.0 495.1 L405.0 502.1 L410.0 507.1 L418.1 509.1 L426.1 511.1 L434.1 516.1 L440.2 520.2 L446.2 521.2 L451.2 518.2 L453.8 512.1 L454.2 504.1 L456.2 498.1 L460.2 493.1 L466.3 489.0 L471.3 487.0 L477.3 487.0 L482.3 489.0 L487.3 491.0 L488.4 495.1 L494.4 497.1 L502.4 498.1 L507.4 500.1 L509.4 504.1 L516.5 504.1 L524.5 506.1 L532.5 508.1 L540.6 510.1 L548.6 512.5 L554.6 512.1 L560.6 509.1 M539.0 508.8 L546.0 511.2 L552.0 513.2 L558.1 510.2 L563.1 507.2 L570.1 504.6 L576.1 503.8 L581.2 506.2 L586.2 509.2 L592.2 510.2 L600.2 508.8 L606.3 506.2 L611.3 501.2 L615.3 494.1 L618.3 486.1 L621.3 476.1 L623.3 468.0 L625.3 460.0 M586.2 509.2 L586.6 516.2 L588.2 522.2 L587.2 528.3 L589.2 534.3 L593.2 540.3 L597.2 548.4 L600.2 554.4 L603.3 560.4 L605.3 568.4 L608.3 576.5 L611.3 584.5 M587.8 520.2 L590.2 528.3 L594.2 536.3 L598.2 544.3 L602.2 550.4 L606.3 553.4 L609.3 546.3 L612.3 538.3 L614.7 530.3 L615.3 529.3 L614.3 538.3 L611.3 548.4 L615.3 548.4 L619.3 552.4 L622.3 558.4 L626.3 566.4 L631.4 574.5 L634.4 580.5 L636.4 584.5 M619.3 502.2 L621.3 501.8 L621.3 510.2 L619.3 510.6 Z M565.7 530.7 L570.1 529.7 M226.0 317.0 L227.0 324.0 L230.0 329.0 L233.0 332.0 L231.0 330.0 L228.0 336.0 L225.0 344.0 L222.0 350.0 L220.0 351.0 M260.0 380.4 L268.0 374.0 L273.0 369.0 L274.0 365.0 L272.0 361.0 L271.6 357.0 L275.0 353.0 L280.0 351.0 L286.0 350.0 L290.0 348.0 L293.0 350.0 L296.0 353.0 L304.0 355.0 L310.0 352.0 L316.0 348.0 L322.0 347.0 L326.0 344.0 L330.0 339.0 L335.0 338.0 L340.0 339.0 L345.0 342.0 L348.0 345.0 L351.0 350.0 L353.0 355.0 L352.0 359.0 L348.0 360.0 L353.0 361.0 L356.0 363.0 L360.0 366.0 L366.0 370.0 L372.0 373.0 L380.0 377.0 M331.0 366.0 L333.0 363.0 L336.0 361.6 L338.4 358.0 L339.6 357.0 L340.0 361.0 L341.0 368.0 L340.0 374.0 L338.0 378.0 L336.0 376.0 L332.0 371.0 Z M380.0 319.0 L376.0 321.0 L372.0 323.0 L370.4 326.0 L371.0 330.0 L372.0 335.0 L375.0 337.6 L380.0 340.4 M235.0 378.0 L240.0 377.0 L242.0 379.0 M252.0 383.0 L260.0 380.4 M380.0 320.0 L385.0 323.0 L388.0 328.0 L391.0 327.0 L395.0 327.0 L399.0 331.0 L400.0 336.0 L404.0 339.0 L402.0 342.0 L406.0 345.0 L412.0 349.0 L418.0 351.0 L423.0 355.0 L428.0 358.0 L434.0 361.0 L440.0 365.0 L447.0 366.0 L448.0 369.0 L450.0 373.0 L449.0 378.0 L448.0 380.4 M380.0 347.0 L384.0 348.0 L387.0 353.0 L390.0 358.0 L394.0 363.0 L399.0 367.0 L405.0 369.6 L411.0 371.0 L412.0 375.0 L415.0 379.0 L418.0 380.4 M540.0 355.0 L537.0 358.0 L535.0 362.0 L534.0 365.0 L537.0 367.0 L539.0 371.0 L540.0 374.0 M392.0 329.0 L395.0 328.4 L399.0 334.0 L397.0 335.0 Z M410.0 351.0 L417.0 352.0 L423.0 356.0 L416.0 354.0 Z M417.0 354.0 L428.0 359.0 L429.0 360.4 L420.0 357.0 Z M379.6 376.8 L384.0 378.4 L387.6 380.6 M184.3 155.1 L192.3 155.1 L200.3 154.1 L204.3 155.1 L203.3 150.1 L208.4 150.1 L205.3 153.1 L204.3 158.1 L200.3 162.1 L196.3 166.1 L200.3 167.1 L208.4 167.1 L218.4 167.1 L219.4 170.2 L216.4 176.2 L212.4 181.2 L204.3 183.2 L209.4 185.2 L212.4 187.2 L218.4 192.2 L222.4 198.3 L226.4 205.3 L230.4 210.3 L234.5 214.3 L236.5 218.4 L238.5 222.4 L240.5 228.4 L244.5 229.4 L250.5 228.4 L255.5 230.4 L257.6 234.4 L256.5 239.4 L253.5 242.4 L248.5 246.5 L250.5 249.5 L252.5 254.5 M184.3 155.1 L180.2 160.1 L178.2 165.1 L174.2 168.2 L176.2 172.2 L180.2 176.2 L178.2 180.2 L180.2 184.2 L186.3 186.2 L188.3 190.2 L186.3 196.3 L184.3 200.3 L186.3 204.3 L192.3 203.3 L200.3 202.3 L204.3 203.3 L202.3 207.3 L204.3 212.3 L208.4 216.3 L207.3 222.4 L204.3 224.4 L198.3 223.4 L192.3 224.4 L190.3 227.4 L194.3 230.4 L195.3 234.4 L192.3 238.4 L186.3 240.4 L184.3 244.5 L190.3 245.5 L198.3 245.5 L206.3 244.5 L212.4 244.5 L208.4 247.5 L200.3 250.5 L194.3 251.5 L190.3 254.5 M159.2 164.1 L163.2 160.1 L169.2 157.1 L172.2 158.1 L168.2 162.1 L163.2 166.1 L160.2 168.2 Z M167.2 168.2 L173.2 166.1 L176.2 170.2 L171.2 173.2 L167.2 172.2 Z M169.2 179.2 L174.2 178.2 L175.2 182.2 L170.2 183.2 Z M169.2 190.2 L174.2 188.2 L178.2 187.2 L176.2 192.2 L171.2 194.3 Z M179.2 192.2 L182.2 190.2 L183.3 196.3 L180.2 197.3 Z M188.3 210.3 L191.3 209.3 L191.9 212.7 L188.9 213.3 Z M167.8 205.3 L170.6 204.7 L171.2 207.9 L168.2 208.3 Z M202.3 149.1 L208.4 148.5 L209.4 151.7 L203.3 152.1 Z M165.2 175.2 L168.2 174.6 L172.6 177.2 L168.2 178.2 Z M180.2 187.2 L182.7 186.2 L184.3 190.2 L181.2 191.2 Z M176.2 194.3 L179.2 193.9 L180.2 197.3 L177.2 197.9 Z M129.0 212.3 L134.1 210.3 L140.1 211.3 L144.1 207.3 L148.1 202.3 L153.1 200.3 L160.2 198.3 L166.2 199.3 L172.2 200.3 L177.2 203.3 L179.2 208.3 L177.2 212.3 L174.2 214.3 L173.2 220.4 L174.2 226.4 L172.6 232.4 L170.2 237.4 L165.2 240.4 L158.2 242.4 L152.1 244.5 L144.1 245.5 L138.1 247.5 L132.0 246.5 L128.0 242.4 L126.0 239.4 L130.0 237.4 L127.0 234.4 L132.0 232.4 L138.1 228.4 L140.1 224.4 L135.1 223.4 L130.0 222.4 L129.0 218.4 L134.1 216.3 L130.0 214.3 Z M221.4 129.0 L227.4 129.0 L225.4 138.0 L223.4 139.0 L222.4 134.0 Z M196.3 227.6 L195.3 235.0 L190.3 238.0 L184.3 240.0 L182.2 243.1 L186.3 245.1 L192.3 244.1 L197.3 246.1 L202.3 248.1 L208.4 246.1 L213.4 243.7 L208.4 248.1 L202.3 250.1 L196.3 251.1 L191.3 253.1 L188.3 258.1 L184.3 262.1 L178.2 265.1 L182.2 266.1 L190.3 262.1 L196.3 260.1 L200.3 258.1 L208.4 257.1 L216.4 256.1 L224.4 255.7 L232.4 255.1 L240.5 254.1 L248.5 252.1 L253.5 250.1 L252.5 247.1 L246.5 247.7 L243.5 246.1 L248.5 242.0 L253.5 239.0 L256.5 234.0 L257.6 227.6 M280.6 243.7 L276.6 248.1 L270.6 251.1 L262.6 253.1 L257.6 255.1 L256.5 260.1 L255.5 265.1 L248.5 268.2 L242.5 273.2 L235.5 274.6 L229.4 273.8 L224.4 271.2 L218.4 271.2 L222.4 273.2 L224.0 278.2 L223.4 283.2 L218.4 282.6 L210.4 281.2 L202.3 281.8 L194.3 283.2 L188.3 285.2 L189.3 289.2 L192.3 293.3 L200.3 295.3 L208.4 298.3 L215.4 301.3 L218.4 304.3 L214.4 307.3 L218.4 309.3 L222.4 313.3 L225.4 318.4 L227.4 324.4 L230.4 329.4 L233.5 331.4 L229.4 328.4 L226.4 326.4 L226.0 334.4 L225.4 342.4 L224.4 348.5 L220.4 351.5 L214.4 352.1 L206.3 350.5 L196.3 349.5 L186.3 350.5 L176.2 349.5 L166.2 348.1 L156.1 346.5 L150.1 348.5 L146.1 351.5 L140.1 354.5 M364.3 73.0 L360.3 77.0 L356.3 80.0 L362.3 79.0 L354.3 82.4 L350.3 84.1 L358.3 83.7 L346.3 87.1 L344.3 87.1 L340.2 89.1 L348.3 90.1 L334.2 90.1 L330.2 93.1 L338.2 94.1 L324.2 96.1 L332.2 97.1 L318.2 99.1 L328.2 100.1 L312.1 103.1 L322.2 103.1 L304.1 106.1 L314.1 107.1 L298.1 108.2 L292.0 110.2 L302.1 112.2 L291.0 116.2 L310.1 113.2 L292.0 119.2 L293.1 122.2 L320.2 119.2 L310.1 123.2 L292.0 128.2 L304.1 127.2 L294.1 134.3 L314.1 130.2 L304.1 134.3 L293.1 140.3 L308.1 137.3 L295.1 146.3 L306.1 143.3 L299.1 152.3 L308.1 149.3 L304.1 157.3 L310.1 161.4 L317.1 162.4 L324.2 161.4 L331.2 158.4 L337.2 154.3 L342.2 150.3 L347.3 147.3 L350.3 145.3 L349.3 141.3 L352.3 140.3 L354.3 139.3 L355.3 144.3 L357.3 140.3 L358.3 138.3 L357.3 146.3 L359.3 152.3 L361.3 158.4 L364.3 164.4 L362.3 160.4 L366.3 170.4 L369.4 174.4 L372.4 178.4 L376.4 180.4 L377.4 184.5 L374.4 186.5 L376.4 190.5 L379.4 194.5 M440.6 95.1 L434.6 98.1 L430.6 102.1 L426.6 106.1 L424.6 112.2 L422.6 118.2 L423.6 124.2 L425.6 128.2 L430.6 130.2 L435.6 132.2 L440.6 136.3 M414.5 135.3 L424.6 132.2 L428.6 131.2 M402.5 146.3 L410.5 145.3 L420.6 143.3 L424.6 140.3 L428.6 141.3 L427.6 144.3 L434.6 144.3 L440.6 143.3 M440.6 147.3 L432.6 149.3 L428.6 147.3 L424.6 152.3 L418.6 155.3 L416.5 160.4 L418.6 166.4 L416.5 174.4 L414.5 180.4 L411.5 185.5 L404.5 186.5 L397.5 187.5 L392.4 190.5 L391.4 194.5 M371.4 157.3 L374.4 150.3 L380.4 146.3 L388.4 145.3 L390.4 148.3 L386.4 152.3 L380.4 154.3 L375.4 158.4 Z M390.4 164.4 L395.5 154.3 L398.5 151.3 L399.5 154.3 L395.5 161.4 L392.4 166.0 Z M414.5 182.4 L419.6 173.4 L422.6 171.4 L420.6 176.4 L416.5 184.5 Z M350.3 123.2 L356.3 126.2 L359.3 130.2 L357.3 131.2 L353.3 127.2 Z M329.2 112.6 L336.2 112.6 M361.3 101.7 L366.3 103.1 M377.4 89.1 L381.4 90.1 L382.4 93.1 M388.4 94.5 L395.5 96.1 L394.5 100.1 M380.4 115.8 L386.4 118.2 M394.5 124.2 L400.5 127.2 M386.4 76.0 L392.4 79.0 L400.5 81.0 L404.5 84.1 L408.5 88.1 L405.5 88.1 L400.5 83.1 M326.2 194.5 L327.2 182.4 L330.2 176.4 L338.2 172.4 L346.3 168.4 L352.3 166.4 L350.3 170.4 L346.3 174.4 L349.3 178.4 L348.3 184.5 L350.3 190.5 L349.3 194.5 M330.2 176.4 L340.2 178.4 L348.3 176.4 M360.3 190.5 L366.3 189.5 L372.4 188.5 L374.4 192.5 L375.4 194.5 M279.0 248.3 L280.0 247.3 L283.0 244.3 L286.0 238.2 L288.0 230.2 L290.0 225.2 L296.1 222.2 L304.1 221.2 L312.1 219.2 L320.2 218.2 L326.2 217.1 L328.2 220.2 L330.2 218.2 L329.2 214.1 L331.2 210.1 L328.2 206.1 L329.2 200.1 L327.2 194.1 L327.2 188.0 L326.2 179.0 M292.0 227.2 L295.1 226.2 L299.1 229.2 L300.1 233.8 L297.1 236.2 L293.1 234.2 L294.1 230.2 Z M280.0 242.2 L284.0 243.9 L282.0 246.3 L285.0 248.3 L281.0 249.3 M329.2 214.1 L336.2 216.1 L342.2 219.2 L344.3 220.2 M340.2 179.0 L339.2 186.0 L341.2 192.0 L344.3 194.1 L340.2 199.1 L342.2 202.1 L346.3 204.1 L345.3 209.1 L349.3 210.1 L356.3 214.1 L354.3 212.1 L360.3 213.1 L366.3 212.1 L372.4 210.1 L378.4 208.1 L382.4 206.1 L384.4 210.1 L382.4 212.1 L386.4 213.1 L390.4 216.1 L395.5 217.1 L396.5 222.2 L395.5 215.1 L404.5 213.1 L412.5 210.1 L420.6 207.1 L428.6 205.1 L436.6 204.1 L440.6 205.1 M341.2 196.1 L345.3 192.0 L350.3 193.1 L354.3 197.1 L353.3 202.1 L348.3 203.1 L343.3 201.1 Z M356.3 194.1 L360.3 190.0 L368.4 188.0 L374.4 190.0 L373.4 196.1 L371.4 202.1 L366.3 206.1 L360.3 205.1 L357.3 200.1 Z M348.3 207.1 L356.3 206.1 L359.3 209.1 L350.3 210.1 Z M396.5 198.5 L400.5 198.1 L402.5 200.1 L399.5 201.7 L396.5 200.5 Z M380.4 207.1 L384.4 205.7 L386.4 210.1 L389.4 214.1 L385.4 212.1 L381.4 210.1 Z M374.4 179.0 L376.4 186.0 L378.4 192.0 L379.4 196.1 L384.4 197.1 L391.4 196.1 L392.4 191.0 L395.5 188.0 L402.5 186.0 L410.5 185.0 L413.5 179.0 M414.5 179.0 L416.5 185.0 L418.6 179.0 M334.2 294.5 L339.2 296.5 L343.3 298.5 M429.0 103.7 L434.0 100.1 L440.0 96.1 L448.1 92.1 L456.1 88.1 L462.1 85.1 L467.1 82.0 L470.2 79.0 L467.1 76.0 L466.1 72.0 M504.3 72.0 L500.3 76.0 L494.3 80.0 L488.2 84.1 L482.2 88.1 L476.2 92.1 L470.2 94.5 L466.1 95.7 L467.1 100.1 L466.1 106.1 L469.2 112.2 L470.2 118.2 L468.2 124.2 L470.2 130.2 L474.2 132.2 L480.2 135.3 L485.2 134.3 L486.2 138.3 L490.2 137.3 L498.3 135.3 L506.3 133.3 L514.3 131.2 L522.4 130.2 L530.4 129.2 L538.4 129.2 L545.5 128.2 L548.5 130.2 L550.5 134.3 L556.5 135.3 L562.5 136.3 L563.5 138.3 L558.5 137.3 L550.5 137.3 L544.5 138.3 L540.4 141.3 L539.4 144.3 L530.4 143.3 L522.4 142.3 L514.3 141.3 L506.3 142.3 L498.3 144.3 L492.2 147.3 L491.2 152.3 L494.3 150.3 L493.3 156.3 L499.3 158.4 L502.3 161.4 L501.3 168.4 L499.3 173.4 L494.3 175.4 L489.2 173.4 L486.2 169.4 L481.2 167.4 L476.2 168.4 L471.2 169.4 L468.2 174.4 L466.1 180.4 L465.7 188.5 L466.1 194.5 M448.1 133.3 L452.1 131.8 L456.1 133.3 L455.1 135.9 L450.1 136.3 Z M475.2 151.3 L480.2 149.3 L485.2 150.3 L487.2 156.3 L482.2 158.4 L477.2 159.4 L474.2 162.4 L473.2 157.3 Z M434.0 168.4 L439.0 164.4 L445.1 163.4 L442.0 168.4 L438.0 173.4 L435.0 176.4 Z M560.5 120.2 L568.6 115.2 L574.6 116.2 L582.6 121.2 L588.6 126.2 L590.6 130.2 L586.6 134.3 L578.6 136.3 L574.6 137.9 L570.6 130.2 L566.5 125.2 Z M526.4 79.0 L534.4 80.0 L542.4 83.1 L550.5 84.1 L555.5 84.5 L548.5 85.7 L540.4 84.5 L532.4 83.7 L528.4 82.0 Z M550.5 91.1 L558.5 94.1 L563.5 99.1 L568.6 98.1 L570.6 100.1 L566.5 102.1 L560.5 100.1 L554.5 95.1 Z M528.4 151.3 L534.4 149.9 L537.4 154.3 L538.4 160.4 L541.4 164.4 L538.4 164.4 L534.4 160.4 L531.4 155.3 Z M569.6 159.4 L575.6 156.3 L579.6 158.4 L579.6 161.4 L572.6 161.4 Z M429.0 130.2 L436.0 134.3 L443.1 139.3 L440.0 142.3 L434.0 146.3 L429.0 148.7 M429.0 149.9 L437.0 144.3 M511.3 97.1 L516.3 95.1 L514.3 102.1 L520.4 98.1 L519.4 105.1 L524.4 100.1 L523.4 107.1 L528.4 102.1 L530.4 94.1 L534.4 100.1 L532.4 106.1 L538.4 98.1 L539.4 105.1 L542.4 100.1 L545.5 107.1 L548.5 103.1 L550.5 109.2 L554.5 105.1 L558.5 104.1 L560.5 109.2 L555.5 111.2 L550.5 114.2 L547.5 119.2 L542.4 117.2 L541.4 122.2 L536.4 119.2 L532.4 116.2 L535.4 113.2 L529.4 113.2 L526.4 117.2 L524.4 112.2 L520.4 115.2 L519.4 123.2 L516.3 118.2 L512.3 123.2 L510.3 117.2 L514.3 113.2 L511.3 110.2 L516.3 108.2 L513.3 104.1 Z M518.4 100.1 L524.4 104.1 L530.4 100.1 L536.4 105.1 L542.4 103.1 L547.5 110.2 L552.5 108.2 L544.5 113.2 L538.4 111.2 L534.4 118.2 L526.4 110.2 L518.4 111.2 L514.3 119.2 M491.2 119.2 L494.3 110.2 L499.3 109.2 L504.3 108.2 L502.3 113.2 L497.3 115.2 L501.3 118.2 L500.3 123.8 L496.3 121.2 L493.3 121.2 Z M225.4 334.0 L224.4 343.0 L222.4 350.1 L216.4 351.5 L208.4 352.1 L200.3 350.7 L192.3 350.1 L184.3 349.5 L176.2 349.1 L168.2 349.5 L160.2 348.7 L154.1 347.0 L150.1 348.7 L144.1 352.1 L140.1 354.1 L139.1 357.1 L142.1 361.1 L143.1 367.1 L142.1 373.2 L144.1 379.2 L145.1 385.2 L142.1 391.2 L140.1 397.2 L137.1 404.3 L136.1 411.3 L139.1 413.3 L143.1 408.3 L140.1 412.3 L145.1 415.3 L144.1 421.3 L143.1 427.4 L142.1 433.4 L148.1 433.4 L156.1 432.4 L162.2 431.4 L167.2 434.4 L170.2 439.4 L173.2 444.4 L177.2 447.4 L180.2 448.5 M172.2 373.2 L176.2 372.1 L176.2 375.2 L173.2 376.2 Z M178.2 407.7 L182.2 406.3 L185.3 403.3 L186.3 404.9 L183.3 407.3 Z M194.3 356.1 L197.3 355.5 L198.3 356.7 M200.3 358.7 L201.5 359.1 M208.4 371.1 L209.6 371.5 M174.2 397.7 L180.2 397.2 L182.7 398.3 M235.5 378.2 L240.5 376.8 L244.5 379.2 M202.3 421.7 L203.9 422.1 M208.0 419.3 L209.2 419.7 M160.6 474.5 L158.6 476.1 L152.5 479.2 L146.5 482.2 L142.5 487.2 L139.5 492.2 L138.5 498.2 L134.5 504.3 L133.5 510.3 L132.4 516.3 L135.5 520.3 L132.4 526.3 L129.4 531.4 L124.4 536.4 L119.4 540.4 L114.4 544.4 L108.4 548.4 L100.3 550.4 L97.3 555.5 L94.9 560.1 L90.1 567.5 L83.7 572.5 L81.0 580.0 L78.6 589.6 M53.1 487.8 L56.1 486.6 L58.6 488.6 L56.1 490.2 L53.7 489.8 Z M56.1 546.4 L63.2 542.8 L65.2 543.4 L62.2 549.4 L59.2 550.0 Z M68.6 548.4 L72.6 548.0 L73.4 551.4 L70.2 553.5 L68.2 551.4 Z M83.3 549.4 L86.3 546.4 L89.3 539.4 L92.3 536.4 L91.3 540.4 L89.3 544.4 L87.3 548.4 Z M90.3 536.0 L92.7 531.4 L94.3 533.4 L92.3 537.4 Z M552.3 380.0 L546.3 378.4 L541.2 374.4 L538.2 369.4 L535.2 364.4 L538.2 358.4 L540.2 352.3 L544.3 350.3 L546.3 344.3 L548.3 338.3 L550.3 332.2 L554.3 330.2 L557.3 324.2 L559.3 320.2 L564.3 316.2 L563.3 313.2 L568.4 310.2 L574.4 309.2 L578.4 310.2 L580.4 307.1 L579.4 303.1 L582.4 309.2 L578.4 313.2 L584.4 310.2 L592.4 306.1 L600.5 303.1 L604.5 298.1 L610.5 297.1 L616.5 298.1 L618.6 294.1 L617.6 289.1 L618.2 285.1 L612.5 284.1 L604.5 280.0 L596.5 279.0 L590.4 274.0 L584.4 272.0 L578.4 269.0 M578.4 313.2 L586.4 315.2 L594.5 316.2 L600.5 315.2 L606.5 317.2 L610.5 316.2 L613.5 319.2 L608.5 320.2 L600.5 320.2 L594.5 322.2 L589.4 325.2 L592.4 328.2 L598.5 330.2 L600.5 336.3 L605.5 338.3 L610.5 336.3 L614.5 332.2 L618.6 329.2 L624.6 328.2 L630.6 327.2 L632.6 329.2 L640.6 330.2 M610.5 316.2 L614.5 313.2 L620.6 311.2 L628.6 309.2 L636.6 307.1 L640.6 306.1 M613.5 319.2 L616.5 323.2 L620.6 326.2 L628.6 325.2 L630.6 327.2 M552.3 380.0 L560.3 380.4 L568.4 381.4 L576.4 379.4 L582.4 375.4 L590.4 371.4 L600.5 369.4 L610.5 369.4 L616.5 368.4 L618.6 371.4 L624.6 374.4 L632.6 379.4 L640.6 380.4 M767.6 199.0 L763.6 202.0 L760.6 206.0 L759.6 212.0 L763.6 214.1 L768.6 212.0 L773.6 213.1 L769.6 216.1 L764.6 218.1 L763.6 223.1 L768.6 224.1 L773.6 222.1 M760.6 230.1 L757.6 234.1 L754.5 238.2 L752.5 239.2 M744.5 242.2 L738.5 243.2 L734.5 247.2 L731.4 252.2 L732.4 257.2 L729.4 260.2 L732.4 262.2 L737.5 262.2 L734.5 264.3 L729.4 264.3 L726.4 268.3 L723.4 274.3 L720.4 279.3 L717.4 284.3 L718.4 285.3 M707.3 272.7 L710.4 275.3 L711.4 278.3 L708.4 281.3 L705.3 285.3 L702.3 286.3 L701.3 290.4 L698.3 292.4 L696.3 296.4 L692.3 297.4 L691.3 293.4 L695.3 292.4 L699.3 289.4 L700.3 285.3 L704.3 283.3 L707.3 279.3 L708.8 276.3 M619.0 311.6 L626.0 308.4 L634.1 306.4 L642.1 304.4 L652.1 302.8 L660.2 302.0 L662.2 303.4 L658.2 306.4 L652.1 308.4 L646.1 309.4 L645.1 313.5 L650.1 315.5 L652.1 318.5 L647.1 320.5 L644.1 324.5 M748.5 321.5 L756.5 318.5 L764.6 315.5 L770.6 311.4 L777.6 310.0 M619.0 330.5 L626.0 329.7 L632.0 328.1 L636.1 327.1 L640.1 330.1 L646.1 335.1 L652.1 339.2 L660.2 345.2 L668.2 351.2 L676.2 356.2 L682.2 360.2 L686.3 365.3 L688.3 370.3 L687.3 375.3 L683.3 379.3 L678.2 381.3 L670.2 382.7 L662.2 381.3 L654.1 382.3 L644.1 381.3 L636.1 378.3 L630.0 377.3 L626.0 374.3 L619.0 373.3 M644.1 324.1 L640.1 326.1 L634.1 325.7 L628.0 326.1 L619.0 325.1 M776.6 309.0 L770.6 311.0 L764.6 315.1 L758.6 318.1 L752.5 320.1 L748.5 322.1 L747.5 326.1 L743.5 331.1 L740.5 336.1 L742.5 340.2 L747.5 343.2 L750.5 347.2 L748.5 352.2 L750.5 358.2 L754.5 362.2 L758.6 368.3 L762.6 374.3 L766.6 379.3 L770.6 384.3 L777.6 388.4 M777.6 390.4 L772.6 394.4 L769.6 400.4 L768.6 406.4 L765.6 412.4 L764.6 418.5 L766.6 424.5 M737.5 382.3 L741.5 381.3 L746.1 384.3 L743.5 384.7 L739.5 383.9 Z M722.4 387.3 L726.4 388.4 L730.0 391.4 L728.4 394.4 L724.4 392.8 Z M694.3 413.5 L700.3 409.4 L707.3 408.4 L706.3 412.4 L702.3 416.5 L696.3 416.1 Z M722.4 418.5 L727.4 417.5 L729.4 422.5 L726.4 424.5 L723.4 422.5 Z M694.3 413.1 L699.3 410.0 L707.3 408.4 L706.3 412.0 L702.3 416.5 L696.3 415.7 Z M722.4 418.5 L727.4 417.7 L729.4 422.5 L732.4 428.1 L728.4 432.1 L725.4 426.1 L723.4 422.1 Z M701.3 468.3 L703.3 469.3 L706.7 473.3 L705.3 476.7 L702.7 474.3 Z M705.9 484.3 L708.4 485.3 L711.4 489.4 L708.4 492.4 L705.3 489.4 Z M769.6 399.0 L768.6 405.0 L764.6 409.0 L764.6 418.1 L768.6 425.1 L777.6 427.1 M753.5 523.5 L760.6 521.5 L764.6 518.5 L768.6 519.5 L772.6 522.5 L777.6 521.5 M751.5 532.2 L754.5 529.1 L753.5 524.1 L758.6 526.1 L762.6 523.1 L764.6 519.1 L768.6 518.1 L769.6 521.1 L772.6 522.1 L777.6 520.1 M752.5 532.2 L756.5 534.2 L758.6 540.2 L761.6 547.2 L763.6 553.2 L766.6 556.2 L769.6 558.3 L772.6 559.3 L770.6 561.3 L773.6 563.3 L777.6 565.3 M612.6 75.0 L617.6 80.0 L627.7 82.5 L637.7 85.1 L642.7 87.6 L647.8 85.1 L649.0 81.3 L642.7 77.5 L635.2 75.0 L630.2 72.0 M647.8 76.3 L655.3 75.0 L665.3 77.5 L674.1 78.8 L674.1 72.5 M606.3 87.6 L612.6 88.8 L615.1 95.1 L620.2 93.8 L623.9 102.6 L621.4 107.6 L626.4 112.7 L630.2 118.9 L628.9 124.0 L622.7 126.5 L617.6 122.7 L612.6 124.0 L613.9 117.7 L608.9 111.4 L606.3 105.1 L603.8 102.6 L610.1 100.1 L607.6 93.8 Z M611.4 97.6 L617.6 103.9 L616.4 110.2 L621.4 116.4 L623.9 121.4 M578.7 118.9 L586.3 121.4 L591.3 126.5 L592.5 131.5 L587.5 134.7 L578.7 135.2 M595.6 93.8 L600.1 92.1 L605.1 93.8 L603.8 96.3 L597.6 96.3 Z M634.0 105.1 L637.2 104.6 L637.7 108.9 L634.5 109.4 Z M654.3 118.2 L657.3 117.7 L657.3 121.4 L654.5 121.9 Z M656.5 127.2 L660.3 127.7 L660.8 131.5 L657.0 131.0 Z M639.0 133.2 L644.0 132.2 L647.8 134.7 L644.0 137.3 L639.5 136.2 Z M659.0 139.0 L662.8 140.3 L666.6 143.3 L665.3 144.8 L660.3 142.3 Z M637.7 152.8 L642.7 149.0 L647.8 146.5 L651.5 147.8 L650.3 152.8 L655.3 155.3 L659.0 157.8 L655.3 160.8 L650.3 161.6 L645.2 157.8 L641.5 156.6 Z M696.7 170.4 L700.5 169.1 L705.5 166.6 L708.5 165.4 L706.7 169.1 L704.2 172.9 L705.5 179.2 L701.7 180.4 L700.5 175.4 Z M642.7 151.6 L649.0 156.6 L654.0 157.8 M765.7 195.5 L770.7 194.2 L775.7 196.7 L770.7 200.5 L763.2 203.0 L759.4 208.0 L764.4 210.5 L773.2 211.8 L767.0 215.5 L761.9 220.6 L765.7 223.1 M22.0 91.3 L30.0 93.1 L36.1 93.5 L42.1 92.1 L46.1 89.7 L52.1 88.1 L58.2 86.5 L64.2 84.1 L72.2 81.7 L78.2 80.0 L84.3 76.0 L90.3 73.6 L93.3 71.6 M160.6 109.2 L167.6 109.2 L166.2 111.8 L161.6 110.6 Z M455.0 400.0 L456.9 403.8 L458.8 407.5 L460.6 411.2 L460.0 415.0 L458.8 417.5 L461.2 418.8 L462.5 422.5 L465.0 423.1 L467.5 425.0 L468.8 428.8 L470.0 432.5 L471.2 436.2 L473.8 437.5 L476.2 435.0 L478.8 437.5 L480.6 441.2 L481.9 438.8 L483.1 433.8 L483.8 428.8 L486.2 427.5 L488.1 430.0 L487.5 435.0 L486.2 440.0 L485.6 443.1 L486.9 443.8 L488.1 440.0 L488.8 435.0 L490.0 431.2 L492.5 430.0 L491.2 427.5 L488.8 425.0 L491.2 423.1 L495.0 423.8 L496.9 425.0 M462.5 408.8 L466.2 412.5 L471.2 415.0 L476.2 416.2 L481.2 416.9 L486.2 418.1 L490.0 420.0 L492.5 421.0 M463.8 410.6 L467.5 414.8 L472.5 416.9 L477.5 418.1 L482.5 418.8 L487.5 420.2 M481.2 409.4 L485.0 410.6 L488.8 412.5 L492.5 415.0 L496.2 417.5 L498.8 418.8 L497.5 421.2 L495.0 423.8 M555.0 378.8 L550.0 378.1 L546.2 380.0 L541.2 381.2 L536.2 381.9 L532.5 383.8 L527.5 385.6 L523.8 387.5 L520.0 386.9 L516.2 384.4 L511.2 383.1 L507.5 382.5 L505.0 383.8 L501.2 382.5 L496.2 384.4 L493.8 386.2 L495.0 388.8 L498.1 391.2 L493.8 391.9 L491.2 393.8 L490.0 392.5 L485.0 387.5 L482.5 388.1 L481.9 392.5 L483.1 396.9 L485.0 400.0 L488.1 401.9 L491.2 403.8 L495.0 405.0 L492.5 406.2 L488.8 405.6 L485.0 404.4 L484.4 406.9 L481.9 409.4 M541.2 375.6 L546.2 377.5 L551.2 380.0 L555.0 380.6 M485.0 405.6 L488.8 408.1 L492.5 410.6 L496.2 413.1 L499.4 415.0 L498.8 416.9 L495.0 415.0 L491.2 412.5 L487.5 410.0 L484.4 407.8 Z M525.0 387.5 L522.5 391.2 L520.6 395.0 L520.0 399.4 L521.2 401.9 L525.0 401.2 L528.1 400.6 L526.9 404.4 L525.0 407.5 L526.9 410.6 L530.0 411.9 L530.6 415.6 L528.8 418.8 L530.0 422.5 L532.5 425.0 L533.1 428.8 L535.0 431.2 L537.5 430.6 L540.0 433.1 L542.5 433.8 L546.2 435.0 L550.0 437.5 L552.5 441.2 L555.0 443.1 M535.0 431.2 L532.5 433.8 L535.0 436.2 L530.0 435.0 M522.5 390.0 L527.5 388.1 L533.8 386.2 L540.0 384.4 L545.0 383.8 L550.0 384.4 L552.5 387.5 L548.8 388.8 L542.5 388.1 L537.5 389.4 L535.0 388.1 L530.0 389.4 L525.0 390.6 Z M516.9 404.4 L520.0 403.1 L523.1 404.4 L523.8 407.5 L520.0 408.1 L517.5 406.9 Z M517.5 414.4 L520.0 413.8 L520.6 417.5 L518.8 418.8 L517.2 416.9 Z M508.1 395.0 L511.9 394.4 L512.5 397.5 L508.8 398.1 Z M508.8 432.5 L511.2 431.9 L513.1 433.1 L511.9 435.0 L509.4 434.8 Z M536.9 446.2 L538.8 443.1 L541.2 441.2 L542.2 442.5 L540.6 445.6 L538.5 448.1 Z M460.0 380.0 L461.9 379.4 L465.6 382.5 L465.0 385.0 L462.5 384.4 L460.6 382.5 Z"/>
<path stroke-width="2.6" stroke-dasharray="4 1.5" stroke-linecap="butt" d="M174.6 168.2 L177.2 173.2 L179.2 178.2 M180.2 181.2 L184.3 187.2 L187.3 192.7 M170.6 184.6 L174.2 189.2 M177.2 190.6 L180.2 196.3 L184.3 199.3 M165.2 171.2 L170.2 175.8 M366 73.8 L355 80 L345 87.5 L335 91 L326 95 L316 101 L304 106 L294 111 L292.5 120 L294.4 129 L296 137.5 L299 145 M362 85 L355 89 L347 92.5 M294 111 L310 113 M294.4 122.5 L310 121 L320 118 M310 121 L315 125 M297.5 135 L314 130 M299 145 L305 150 L313 152 M512.3 98.1 L518.4 104.1 L516.3 112.2 L513.3 120.2 M520.4 99.1 L526.4 103.1 L524.4 109.2 M528.4 93.1 L534.4 98.1 L539.4 103.1 L545.5 106.1 L550.5 110.2 M530.4 105.1 L536.4 110.2 L542.4 114.2 L548.5 118.2 M518.4 115.2 L524.4 113.2 L530.4 115.2 M552.5 105.1 L558.5 106.1 M534.4 117.2 L539.4 120.2 M492.2 113.2 L497.3 111.2 L502.3 110.2 M493.3 119.2 L498.3 120.2"/>
<path fill="#000" stroke-width="1" d="M366.7 436.2 L368.0 436.0 L368.2 437.4 L367.0 437.6 Z M377.7 383.2 L378.6 383.0 L378.7 384.0 L377.9 384.1 Z M460.2 410.1 L461.7 409.1 L462.2 413.1 L460.7 414.1 Z M461.2 422.7 L463.8 422.2 L464.8 424.7 L462.2 425.7 Z M401.5 410.1 L402.2 409.9 L402.2 410.9 L401.5 410.9 Z M356.6 463.6 L359.7 461.9 L360.2 462.9 L357.3 464.6 Z M390.9 445.6 L392.1 445.9 L395.3 448.0 L395.6 449.4 L394.4 449.7 L391.9 447.4 Z M366.6 435.9 L368.1 435.7 L368.6 437.1 L367.2 437.7 Z M620.6 486.4 L622.2 486.4 L622.2 490.0 L620.6 490.0 Z M619.6 500.5 L621.2 500.5 L621.2 503.5 L619.6 503.5 Z M620.7 486.5 L622.3 486.5 L622.3 489.1 L620.7 489.1 Z M631.0 463.2 L632.2 463.2 L632.2 464.4 L631.0 464.4 Z M602.7 556.0 L604.3 556.0 L604.3 557.2 L602.7 557.2 Z M352.0 322.0 L354.4 320.0 L355.0 324.0 L353.0 325.0 Z M343.6 355.0 L345.2 354.6 L345.4 356.4 L343.8 356.6 Z M394.0 332.0 L398.0 337.0 L400.0 338.0 L396.0 333.0 Z M399.0 341.0 L405.0 343.0 L408.0 345.0 L404.0 344.0 Z M412.0 355.0 L414.0 354.6 L413.6 356.4 Z M444.0 365.0 L447.6 364.4 L448.0 367.0 Z M423.8 308.4 L429.2 306.0 L434.2 304.0 L434.6 305.6 L429.8 308.0 L424.6 309.6 Z M393.7 308.8 L395.7 308.8 L395.7 310.4 L393.7 310.4 Z M460.3 380.3 L462.7 379.9 L465.3 382.7 L463.3 384.7 L460.7 383.3 Z M190.3 222.8 L193.3 222.0 L193.9 224.4 L190.7 224.8 Z M158.2 171.2 L161.2 170.2 L161.2 173.2 L158.6 173.8 Z M221.4 129.0 L227.4 129.0 L225.4 138.0 L223.4 139.0 L222.4 134.0 Z M202.3 149.1 L208.4 148.5 L209.4 151.7 L203.3 152.1 Z M159.2 164.1 L163.2 160.1 L169.2 157.1 L172.2 158.1 L168.2 162.1 L163.2 166.1 L160.2 168.2 Z M158.2 171.2 L161.2 170.2 L161.2 173.2 L158.6 173.8 Z M169.2 179.2 L174.2 178.2 L175.2 182.2 L170.2 183.2 Z M180.2 187.2 L182.7 186.2 L184.3 190.2 L181.2 191.2 Z M209.4 272.2 L212.0 271.8 L212.0 273.8 L209.8 274.2 Z M214.0 275.8 L217.4 275.4 L217.4 277.4 L214.4 277.8 Z M203.3 299.3 L205.9 298.9 L205.9 300.7 Z M212.8 307.3 L214.8 306.9 L214.8 308.7 Z M384.4 176.4 L387.4 176.0 L387.4 178.4 L384.8 178.8 Z M395.5 179.4 L398.5 180.4 L397.5 182.0 Z M355.3 172.4 L358.3 172.0 L357.9 173.6 Z M375.8 224.0 L377.0 224.0 L377.0 225.2 L375.8 225.2 Z M371.8 234.0 L373.0 234.0 L373.0 235.2 L371.8 235.2 Z M377.8 233.6 L379.0 233.6 L379.0 234.8 L377.8 234.8 Z M384.8 234.0 L386.0 234.0 L386.0 235.2 L384.8 235.2 Z M387.8 238.0 L389.0 238.0 L389.0 239.2 L387.8 239.2 Z M390.8 238.8 L392.0 238.8 L392.0 240.0 L390.8 240.0 Z M392.9 244.1 L394.1 244.1 L394.1 245.3 L392.9 245.3 Z M390.2 271.2 L391.4 271.2 L391.4 272.4 L390.2 272.4 Z M389.4 282.2 L390.6 282.2 L390.6 283.4 L389.4 283.4 Z M418.4 293.9 L419.6 293.9 L419.6 295.1 L418.4 295.1 Z M469.2 134.7 L473.2 134.3 L473.2 135.9 L469.6 136.3 Z M208.4 388.2 L210.8 386.8 L211.4 390.2 L209.4 391.2 Z M60.2 490.6 L61.4 490.6 L61.4 492.2 Z M45.1 539.4 L47.1 538.8 L47.7 541.4 L46.1 544.0 Z M42.5 553.5 L46.1 552.0 L46.1 554.9 Z M52.1 547.4 L54.5 547.4 L54.5 550.0 L52.1 550.0 Z M631.2 463.9 L632.4 463.9 L632.4 465.1 L631.2 465.1 Z M158.6 108.2 L164.6 106.2 L169.6 107.2 L168.6 111.2 L165.6 113.2 L167.6 117.2 L165.6 119.2 L163.6 116.2 L162.6 112.2 L159.6 111.2 Z M514.4 392.5 L518.1 391.9 L518.1 394.0 L514.8 394.4 Z M512.8 388.1 L515.6 388.5 L515.2 390.2 L512.8 389.8 Z M503.1 385.6 L505.0 385.2 L505.0 387.2 L503.2 387.2 Z M501.5 408.5 L504.0 409.0 L504.4 411.2 L502.2 411.0 Z M525.0 423.8 L529.4 423.1 L529.8 425.0 L525.6 425.6 Z M518.1 425.2 L522.5 424.4 L522.8 426.2 L518.5 426.9 Z M500.6 425.0 L502.2 424.8 L502.5 426.9 L501.0 427.2 Z M505.6 426.9 L507.5 427.5 L507.2 429.4 L505.6 429.0 Z M510.6 426.9 L512.5 427.5 L512.2 429.0 L510.8 428.8 Z M505.6 433.8 L507.5 433.5 L507.8 435.2 L506.0 435.5 Z M501.2 431.9 L502.8 431.5 L503.0 433.2 L501.5 433.5 Z M500.6 436.2 L503.1 436.0 L503.2 437.8 L501.0 438.0 Z M505.6 438.1 L507.2 437.9 L507.2 439.4 L505.8 439.4 Z M511.9 440.6 L513.8 440.2 L514.0 442.2 L512.2 442.5 Z M515.0 441.2 L516.5 441.2 L516.5 442.8 L515.1 442.8 Z M521.2 438.8 L523.1 438.1 L523.5 440.0 L521.8 440.2 Z M531.2 440.0 L533.8 439.8 L533.8 441.9 L531.5 441.9 Z M513.8 412.5 L515.0 412.5 L515.0 414.0 L513.8 414.0 Z M506.9 400.6 L508.5 400.4 L508.5 402.2 L507.0 402.2 Z M484.4 442.5 L486.2 442.5 L486.2 445.0 L484.5 444.8 Z M488.5 447.8 L489.5 447.8 L489.5 448.8 L488.5 448.8 Z M493.2 449.8 L494.2 449.8 L494.2 450.8 L493.2 450.8 Z"/>
</g>
<rect x="23.4" y="72.6" width="753.15" height="516.1" fill="none" stroke="#000" stroke-width="1.3"/>
<text transform="translate(33.5,12.5) scale(1.16,1)" x="0" y="0" font-size="14" textLength="105.2" lengthAdjust="spacing" >WS_Eta_e25km</text>
<text x="174.5" y="11.3" font-size="10" textLength="140" lengthAdjust="spacingAndGlyphs" fill="#aaaaaa" style="fill:#aaaaaa" xml:space="preserve">( 0.25 x 0.25 degree )</text>
<text x="65" y="34.5" font-size="14.5" textLength="38" lengthAdjust="spacingAndGlyphs" >CAPE</text>
<text transform="translate(132.5,34.5) scale(1.2,1)" x="0" y="0" font-size="15" textLength="45.0" lengthAdjust="spacing" >[J/kg]</text>
<text transform="translate(459.5,12.5) scale(1.16,1)" x="0" y="0" font-size="14" textLength="86.6" lengthAdjust="spacing" >initialisation:</text>
<text transform="translate(572,12.5) scale(1.16,1)" x="0" y="0" font-size="14" textLength="82.8" lengthAdjust="spacing" >2025.06.22.</text>
<text transform="translate(679.5,12.5) scale(1.16,1)" x="0" y="0" font-size="14" textLength="37.5" lengthAdjust="spacing" >00:00</text>
<text x="735" y="12.5" font-size="14" textLength="28" lengthAdjust="spacingAndGlyphs" >UTC</text>
<text transform="translate(457,34.3) scale(1.16,1)" x="0" y="0" font-size="14" textLength="85.3" lengthAdjust="spacing" >valid(+06h):</text>
<text transform="translate(568,34.3) scale(1.16,1)" x="0" y="0" font-size="14" textLength="86.8" lengthAdjust="spacing" >2025.JUN.22</text>
<text transform="translate(680,34.3) scale(1.16,1)" x="0" y="0" font-size="14" textLength="37.7" lengthAdjust="spacing" >06:00</text>
<text x="736" y="34.3" font-size="14" textLength="28" lengthAdjust="spacingAndGlyphs" >UTC</text>
<text x="13.6" y="602.6" font-size="12" textLength="19.5" lengthAdjust="spacingAndGlyphs" >20W</text>
<text x="67.4" y="602.6" font-size="12" textLength="19.5" lengthAdjust="spacingAndGlyphs" >15W</text>
<text x="121.2" y="602.6" font-size="12" textLength="19.5" lengthAdjust="spacingAndGlyphs" >10W</text>
<text x="178.3" y="602.6" font-size="12" textLength="13" lengthAdjust="spacingAndGlyphs" >5W</text>
<text x="235.3" y="602.6" font-size="12" textLength="6.5" lengthAdjust="spacingAndGlyphs" >0</text>
<text x="285.9" y="602.6" font-size="12" textLength="13" lengthAdjust="spacingAndGlyphs" >5E</text>
<text x="336.4" y="602.6" font-size="12" textLength="19.5" lengthAdjust="spacingAndGlyphs" >10E</text>
<text x="390.2" y="602.6" font-size="12" textLength="19.5" lengthAdjust="spacingAndGlyphs" >15E</text>
<text x="444.0" y="602.6" font-size="12" textLength="19.5" lengthAdjust="spacingAndGlyphs" >20E</text>
<text x="497.8" y="602.6" font-size="12" textLength="19.5" lengthAdjust="spacingAndGlyphs" >25E</text>
<text x="551.6" y="602.6" font-size="12" textLength="19.5" lengthAdjust="spacingAndGlyphs" >30E</text>
<text x="605.4" y="602.6" font-size="12" textLength="19.5" lengthAdjust="spacingAndGlyphs" >35E</text>
<text x="659.2" y="602.6" font-size="12" textLength="19.5" lengthAdjust="spacingAndGlyphs" >40E</text>
<text x="713.0" y="602.6" font-size="12" textLength="19.5" lengthAdjust="spacingAndGlyphs" >45E</text>
<text x="766.8" y="602.6" font-size="12" textLength="19.5" lengthAdjust="spacingAndGlyphs" >50E</text>
<text x="-2.8" y="593.0" font-size="12" textLength="19.5" lengthAdjust="spacingAndGlyphs" >25N</text>
<text x="-2.8" y="528.5" font-size="12" textLength="19.5" lengthAdjust="spacingAndGlyphs" >30N</text>
<text x="-2.8" y="464.0" font-size="12" textLength="19.5" lengthAdjust="spacingAndGlyphs" >35N</text>
<text x="-2.8" y="399.5" font-size="12" textLength="19.5" lengthAdjust="spacingAndGlyphs" >40N</text>
<text x="-2.8" y="335.0" font-size="12" textLength="19.5" lengthAdjust="spacingAndGlyphs" >45N</text>
<text x="-2.8" y="270.4" font-size="12" textLength="19.5" lengthAdjust="spacingAndGlyphs" >50N</text>
<text x="-2.8" y="205.9" font-size="12" textLength="19.5" lengthAdjust="spacingAndGlyphs" >55N</text>
<text x="-2.8" y="141.4" font-size="12" textLength="19.5" lengthAdjust="spacingAndGlyphs" >60N</text>
<text x="-2.8" y="76.9" font-size="12" textLength="19.5" lengthAdjust="spacingAndGlyphs" >65N</text>
<path d="M23.4 588.7 V592.5 M77.2 588.7 V592.5 M131.0 588.7 V592.5 M184.8 588.7 V592.5 M238.6 588.7 V592.5 M292.4 588.7 V592.5 M346.2 588.7 V592.5 M400.0 588.7 V592.5 M453.8 588.7 V592.5 M507.6 588.7 V592.5 M561.4 588.7 V592.5 M615.2 588.7 V592.5 M669.0 588.7 V592.5 M722.8 588.7 V592.5 M776.5 588.7 V592.5 M23.4 588.7 H19.799999999999997 M23.4 524.2 H19.799999999999997 M23.4 459.7 H19.799999999999997 M23.4 395.2 H19.799999999999997 M23.4 330.7 H19.799999999999997 M23.4 266.1 H19.799999999999997 M23.4 201.6 H19.799999999999997 M23.4 137.1 H19.799999999999997 M23.4 72.6 H19.799999999999997" stroke="#000" stroke-width="1.3" fill="none"/>
<text x="3.8" y="615.2" font-size="12" textLength="63" lengthAdjust="spacingAndGlyphs" >GrADS/COLA</text>
<text x="676.3" y="615.2" font-size="12" textLength="106.5" lengthAdjust="spacingAndGlyphs" >2025-06-22-08:29</text>
</svg></body></html>
